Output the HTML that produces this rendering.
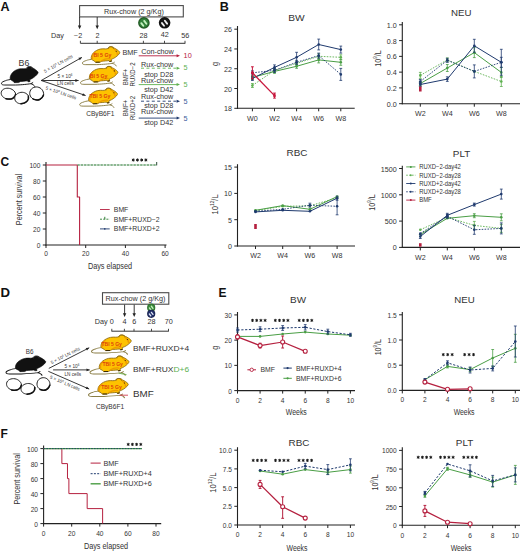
<!DOCTYPE html>
<html><head><meta charset="utf-8"><style>
html,body{margin:0;padding:0;background:#fff;}
svg{display:block;}
text{font-family:"Liberation Sans", sans-serif;}
</style></head><body>
<svg width="520" height="553" viewBox="0 0 520 553">
<rect width="520" height="553" fill="#fff"/>
<text font-size="12" text-anchor="start" fill="#111" font-weight="bold" transform="translate(0.5 10.6) scale(1.05 1)">A</text>
<rect x="79.6" y="5.6" width="103.7" height="11.3" fill="white" stroke="#4a4a4a" stroke-width="1.1"/>
<text font-size="6.6" text-anchor="middle" fill="#333" transform="translate(133.9 14.2) scale(1.1 1)">Rux-chow (2 g/Kg)</text>
<line x1="79.6" y1="17" x2="79.6" y2="26.5" stroke="#222" stroke-width="0.9"/>
<path d="M79.6,29.2 l-1.7,-3.6 l3.4,0 z" fill="#222"/>
<line x1="97.2" y1="17" x2="97.2" y2="26.5" stroke="#222" stroke-width="0.9"/>
<path d="M97.2,29.2 l-1.7,-3.6 l3.4,0 z" fill="#222"/>
<circle cx="143.9" cy="22.9" r="5.8" fill="#235a25"/>
<circle cx="143.9" cy="22.9" r="4.52" fill="#32813a"/>
<path d="M141.29,23.19 l2.03,2.61 M144.19,20.87 l2.2,2.9" stroke="#c6f2c0" stroke-width="1.86" stroke-linecap="round"/>
<circle cx="164.6" cy="22.8" r="5.8" fill="#111"/>
<circle cx="164.6" cy="22.8" r="4.52" fill="#161616"/>
<path d="M161.99,23.09 l2.03,2.61 M164.89,20.77 l2.2,2.9" stroke="#f2f2f2" stroke-width="1.86" stroke-linecap="round"/>
<text font-size="6.6" text-anchor="start" fill="#333" transform="translate(51 37.6) scale(1.1 1)">Day</text>
<text font-size="6.6" text-anchor="middle" fill="#333" transform="translate(78.2 37.6) scale(1.1 1)">&#8722;2</text>
<text font-size="6.6" text-anchor="middle" fill="#333" transform="translate(97.5 37.6) scale(1.1 1)">2</text>
<text font-size="6.6" text-anchor="middle" fill="#333" transform="translate(143.6 37.6) scale(1.1 1)">28</text>
<text font-size="6.6" text-anchor="middle" fill="#333" transform="translate(164.7 37) scale(1.1 1)">42</text>
<text font-size="6.6" text-anchor="middle" fill="#333" transform="translate(185.2 37.6) scale(1.1 1)">56</text>
<line x1="80.4" y1="43.3" x2="185.3" y2="43.3" stroke="#333" stroke-width="1"/>
<line x1="80.4" y1="40.8" x2="80.4" y2="43.3" stroke="#333" stroke-width="0.9"/>
<line x1="97.2" y1="40.8" x2="97.2" y2="43.3" stroke="#333" stroke-width="0.9"/>
<line x1="143.4" y1="40.8" x2="143.4" y2="43.3" stroke="#333" stroke-width="0.9"/>
<line x1="164.5" y1="40.8" x2="164.5" y2="43.3" stroke="#333" stroke-width="0.9"/>
<line x1="185" y1="40.8" x2="185" y2="43.3" stroke="#333" stroke-width="0.9"/>
<text font-size="6.6" text-anchor="start" fill="#333" transform="translate(122.4 54.7) scale(1.1 1)">BMF</text>
<text font-size="6.6" text-anchor="middle" fill="#333" transform="translate(157.5 54.4) scale(1.1 1)">Con-chow</text>
<line x1="138.7" y1="55.8" x2="177.5" y2="55.8" stroke="#b5203f" stroke-width="0.9"/>
<path d="M180,55.8 l-3.4,-1.5 l0,3 z" fill="#b5203f"/>
<text font-size="6.6" text-anchor="start" fill="#b5203f" transform="translate(183.6 58.3) scale(1.1 1)">10</text>
<text font-size="6.6" text-anchor="middle" fill="#333" transform="translate(127.6 77) rotate(-90) scale(0.92 1)">BMF+</text>
<text font-size="6.6" text-anchor="middle" fill="#333" transform="translate(135 74.4) rotate(-90) scale(0.92 1)">RUXD&#8722;2</text>
<text font-size="6.6" text-anchor="middle" fill="#333" transform="translate(157.2 67) scale(1.1 1)">Rux-chow</text>
<line x1="141" y1="68.2" x2="177.5" y2="68.2" stroke="#5db04f" stroke-width="0.9" stroke-dasharray="3,2.4"/>
<path d="M180,68.2 l-3.4,-1.5 l0,3 z" fill="#5db04f"/>
<text font-size="6.6" text-anchor="start" fill="#5db04f" transform="translate(183.6 70.2) scale(1.1 1)">5</text>
<text font-size="6.6" text-anchor="middle" fill="#333" transform="translate(158.7 76.8) scale(1.1 1)">stop D28</text>
<text font-size="6.6" text-anchor="middle" fill="#333" transform="translate(157.2 83.3) scale(1.1 1)">Rux-chow</text>
<line x1="138.7" y1="84.6" x2="177.5" y2="84.6" stroke="#5db04f" stroke-width="0.9"/>
<path d="M180,84.6 l-3.4,-1.5 l0,3 z" fill="#5db04f"/>
<text font-size="6.6" text-anchor="start" fill="#5db04f" transform="translate(183.6 86.6) scale(1.1 1)">5</text>
<text font-size="6.6" text-anchor="middle" fill="#333" transform="translate(158.7 92.3) scale(1.1 1)">stop D42</text>
<text font-size="6.6" text-anchor="middle" fill="#333" transform="translate(127.6 108) rotate(-90) scale(0.92 1)">BMF+</text>
<text font-size="6.6" text-anchor="middle" fill="#333" transform="translate(135 108) rotate(-90) scale(0.92 1)">RUXD+2</text>
<text font-size="6.6" text-anchor="middle" fill="#333" transform="translate(157.2 99.3) scale(1.1 1)">Rux-chow</text>
<line x1="141" y1="101.2" x2="177.5" y2="101.2" stroke="#1f3a6e" stroke-width="0.9" stroke-dasharray="3,2.4"/>
<path d="M180,101.2 l-3.4,-1.5 l0,3 z" fill="#1f3a6e"/>
<text font-size="6.6" text-anchor="start" fill="#3a5a9a" transform="translate(183.6 103.7) scale(1.1 1)">5</text>
<text font-size="6.6" text-anchor="middle" fill="#333" transform="translate(158.7 107.8) scale(1.1 1)">stop D28</text>
<text font-size="6.6" text-anchor="middle" fill="#333" transform="translate(157.2 114.3) scale(1.1 1)">Rux-chow</text>
<line x1="138.7" y1="118.1" x2="177.5" y2="118.1" stroke="#1f3a6e" stroke-width="0.9"/>
<path d="M180,118.1 l-3.4,-1.5 l0,3 z" fill="#1f3a6e"/>
<text font-size="6.6" text-anchor="start" fill="#3a5a9a" transform="translate(183.6 120.9) scale(1.1 1)">5</text>
<text font-size="6.6" text-anchor="middle" fill="#333" transform="translate(158.7 125) scale(1.1 1)">stop D42</text>
<text font-size="8.4" text-anchor="middle" fill="#333" transform="translate(24 65.7) scale(1.05 1)">B6</text>
<g transform="translate(1 66.4) scale(0.95 0.95)">
<path d="M10,13.8 C7.5,14.2 5.5,14.6 4.9,15 C2.6,15.8 0.6,16.5 0.5,17.8 C0.4,19.2 1.8,19.6 4,19.6 L15.4,19.6 C22,19.4 28,18.8 31.1,18.2 C32.3,17.9 33.2,17.4 33.8,16.8 M31.1,18.2 C33,18.6 35,19.6 35.6,21.4" fill="none" stroke="#111" stroke-width="1"/>
<path d="M9.7,13.6 C9.3,11.2 10.2,8.6 12,6.6 C13.6,4.9 16,3.4 18.9,2.7 C20.8,2.3 22.6,2.4 24.1,2.5 C25.2,2.5 26,2.3 26.7,2.1 C27,1.2 27.6,0.6 28.5,0.3 C29.5,0 30.5,0 31,0.2 C32.2,0.4 33,1 33.3,1.6 C34.5,2.2 35.5,2.8 36.3,3.4 C37.3,4.1 38.2,4.9 38.7,5.6 C39.1,6.1 39.2,6.6 38.9,7.1 C38.2,8.3 37.3,9.4 36.3,10.2 C35.2,11.2 34,12.1 32.8,12.7 C31.8,13.2 30.9,13.6 30.2,14 L30.6,15.9 L28.4,16.2 L28.0,15.2 C26.5,15.4 25.2,15.5 24.1,15.6 C22.8,15.7 21.6,15.8 20.6,15.9 L18.6,17.0 L14.0,17.1 L12.8,15.6 C11.5,15.0 10.4,14.4 9.7,13.6 Z" fill="#111" stroke="#000" stroke-width="0.6"/>
<path d="M27.2,2.6 C27,1.2 28.2,0.1 29.8,0.1 C31.4,0.1 32.6,1.1 32.6,2.6" fill="none" stroke="#555" stroke-width="0.5"/>
</g>
<g transform="translate(8.4 93.7) rotate(12)">
<path d="M7.3,0 C7.3,3.24 4.02,5.4 0,5.4 C-4.38,5.4 -7.3,2.97 -7.3,0 C-7.3,-3.24 -3.65,-5.4 0,-5.4 C3.65,-5.4 7.3,-2.97 7.3,0 Z" fill="white" stroke="#111" stroke-width="0.85"/>
<path d="M7.15,-0.81 C7.3,3.24 4.02,5.4 -1.46,5.4" fill="none" stroke="#111" stroke-width="1.5" stroke-linecap="round"/>
</g>
<g transform="translate(21.7 98) rotate(-8)">
<path d="M7,0 C7,3.42 3.85,5.7 0,5.7 C-4.2,5.7 -7,3.14 -7,0 C-7,-3.42 -3.5,-5.7 0,-5.7 C3.5,-5.7 7,-3.14 7,0 Z" fill="white" stroke="#111" stroke-width="0.85"/>
<path d="M6.86,-0.85 C7,3.42 3.85,5.7 -1.4,5.7" fill="none" stroke="#111" stroke-width="1.5" stroke-linecap="round"/>
</g>
<g transform="translate(36.7 93.5) rotate(20)">
<path d="M7,0 C7,3.9 3.85,6.5 0,6.5 C-4.2,6.5 -7,3.58 -7,0 C-7,-3.9 -3.5,-6.5 0,-6.5 C3.5,-6.5 7,-3.58 7,0 Z" fill="white" stroke="#111" stroke-width="0.85"/>
<path d="M6.86,-0.97 C7,3.9 3.85,6.5 -1.4,6.5" fill="none" stroke="#111" stroke-width="1.5" stroke-linecap="round"/>
</g>
<line x1="41.2" y1="80.5" x2="81.9" y2="57.4" stroke="#222" stroke-width="0.9"/>
<path d="M81.9,57.4 L79.81,60.2 L78.43,57.76 Z" fill="#222"/>
<line x1="41.2" y1="80.5" x2="78.6" y2="80.5" stroke="#222" stroke-width="0.9"/>
<path d="M78.6,80.5 L75.4,81.9 L75.4,79.1 Z" fill="#222"/>
<line x1="41.2" y1="80.5" x2="85.6" y2="95.5" stroke="#222" stroke-width="0.9"/>
<path d="M85.6,95.5 L82.12,95.8 L83.02,93.15 Z" fill="#222"/>
<text font-size="4.7" text-anchor="middle" fill="#333" transform="translate(59 65.2) rotate(-28.8) scale(0.98 1)">5 &#215; 10<tspan font-size="3.0" dy="-1.7">6</tspan><tspan dy="1.7"> LN cells</tspan></text>
<text font-size="4.7" text-anchor="middle" fill="#333" transform="translate(65 78)">5 &#215; 10<tspan font-size="3.0" dy="-1.7">6</tspan></text>
<text font-size="4.7" text-anchor="middle" fill="#333" transform="translate(65.4 85.3)">LN cells</text>
<text font-size="4.7" text-anchor="middle" fill="#333" transform="translate(60.4 94.4) rotate(18.5) scale(0.98 1)">5 &#215; 10<tspan font-size="3.0" dy="-1.7">6</tspan><tspan dy="1.7"> LN cells</tspan></text>
<g transform="translate(81.9 46.6) scale(0.97 0.92)">
<path d="M10,13.8 C7.5,14.2 5.5,14.6 4.9,15 C2.6,15.8 0.6,16.5 0.5,17.8 C0.4,19.2 1.8,19.6 4,19.6 L15.4,19.6 C22,19.4 28,18.8 31.1,18.2 C32.3,17.9 33.2,17.4 33.8,16.8 M31.1,18.2 C33,18.6 35,19.6 35.6,21.4" fill="none" stroke="#8a7d45" stroke-width="1"/>
<path d="M9.7,13.6 C9.3,11.2 10.2,8.6 12,6.6 C13.6,4.9 16,3.4 18.9,2.7 C20.8,2.3 22.6,2.4 24.1,2.5 C25.2,2.5 26,2.3 26.7,2.1 C27,1.2 27.6,0.6 28.5,0.3 C29.5,0 30.5,0 31,0.2 C32.2,0.4 33,1 33.3,1.6 C34.5,2.2 35.5,2.8 36.3,3.4 C37.3,4.1 38.2,4.9 38.7,5.6 C39.1,6.1 39.2,6.6 38.9,7.1 C38.2,8.3 37.3,9.4 36.3,10.2 C35.2,11.2 34,12.1 32.8,12.7 C31.8,13.2 30.9,13.6 30.2,14 L30.6,15.9 L28.4,16.2 L28.0,15.2 C26.5,15.4 25.2,15.5 24.1,15.6 C22.8,15.7 21.6,15.8 20.6,15.9 L18.6,17.0 L14.0,17.1 L12.8,15.6 C11.5,15.0 10.4,14.4 9.7,13.6 Z" fill="#fdc200" stroke="#8f6c12" stroke-width="0.9"/>
<path d="M10.9,13 C10.4,10.5 11.5,7.8 13.6,6 M20.5,15.4 C23,13.6 26,12.8 29,13.2 M33.6,3 C35.4,4.4 36.4,6.2 36.6,8.4" fill="none" stroke="#eb9300" stroke-width="1.4" stroke-linecap="round" opacity="0.85"/>
<path d="M27.2,2.6 C27,1.2 28.2,0.1 29.8,0.1 C31.4,0.1 32.6,1.1 32.6,2.6" fill="none" stroke="#8f6c12" stroke-width="0.9"/>
<circle cx="35.4" cy="5.0" r="0.6" fill="#3a2a00"/>
<path d="M28.4,16.1 L30.6,15.8 M14.2,17.0 L18.4,16.9" stroke="#3a2a00" stroke-width="1.0"/>
</g>
<text font-size="6" text-anchor="middle" fill="#e0400c" font-weight="bold" transform="translate(102.4 57.4) scale(0.86 1)">BI 5 Gy</text>
<g transform="translate(80 66.3) scale(0.97 0.92)">
<path d="M10,13.8 C7.5,14.2 5.5,14.6 4.9,15 C2.6,15.8 0.6,16.5 0.5,17.8 C0.4,19.2 1.8,19.6 4,19.6 L15.4,19.6 C22,19.4 28,18.8 31.1,18.2 C32.3,17.9 33.2,17.4 33.8,16.8 M31.1,18.2 C33,18.6 35,19.6 35.6,21.4" fill="none" stroke="#8a7d45" stroke-width="1"/>
<path d="M9.7,13.6 C9.3,11.2 10.2,8.6 12,6.6 C13.6,4.9 16,3.4 18.9,2.7 C20.8,2.3 22.6,2.4 24.1,2.5 C25.2,2.5 26,2.3 26.7,2.1 C27,1.2 27.6,0.6 28.5,0.3 C29.5,0 30.5,0 31,0.2 C32.2,0.4 33,1 33.3,1.6 C34.5,2.2 35.5,2.8 36.3,3.4 C37.3,4.1 38.2,4.9 38.7,5.6 C39.1,6.1 39.2,6.6 38.9,7.1 C38.2,8.3 37.3,9.4 36.3,10.2 C35.2,11.2 34,12.1 32.8,12.7 C31.8,13.2 30.9,13.6 30.2,14 L30.6,15.9 L28.4,16.2 L28.0,15.2 C26.5,15.4 25.2,15.5 24.1,15.6 C22.8,15.7 21.6,15.8 20.6,15.9 L18.6,17.0 L14.0,17.1 L12.8,15.6 C11.5,15.0 10.4,14.4 9.7,13.6 Z" fill="#fdc200" stroke="#8f6c12" stroke-width="0.9"/>
<path d="M10.9,13 C10.4,10.5 11.5,7.8 13.6,6 M20.5,15.4 C23,13.6 26,12.8 29,13.2 M33.6,3 C35.4,4.4 36.4,6.2 36.6,8.4" fill="none" stroke="#eb9300" stroke-width="1.4" stroke-linecap="round" opacity="0.85"/>
<path d="M27.2,2.6 C27,1.2 28.2,0.1 29.8,0.1 C31.4,0.1 32.6,1.1 32.6,2.6" fill="none" stroke="#8f6c12" stroke-width="0.9"/>
<circle cx="35.4" cy="5.0" r="0.6" fill="#3a2a00"/>
<path d="M28.4,16.1 L30.6,15.8 M14.2,17.0 L18.4,16.9" stroke="#3a2a00" stroke-width="1.0"/>
</g>
<text font-size="6" text-anchor="middle" fill="#e0400c" font-weight="bold" transform="translate(98.6 78.4) scale(0.86 1)">BI 5 Gy</text>
<g transform="translate(79.2 88.1) scale(0.98 0.92)">
<path d="M10,13.8 C7.5,14.2 5.5,14.6 4.9,15 C2.6,15.8 0.6,16.5 0.5,17.8 C0.4,19.2 1.8,19.6 4,19.6 L15.4,19.6 C22,19.4 28,18.8 31.1,18.2 C32.3,17.9 33.2,17.4 33.8,16.8 M31.1,18.2 C33,18.6 35,19.6 35.6,21.4" fill="none" stroke="#8a7d45" stroke-width="1"/>
<path d="M9.7,13.6 C9.3,11.2 10.2,8.6 12,6.6 C13.6,4.9 16,3.4 18.9,2.7 C20.8,2.3 22.6,2.4 24.1,2.5 C25.2,2.5 26,2.3 26.7,2.1 C27,1.2 27.6,0.6 28.5,0.3 C29.5,0 30.5,0 31,0.2 C32.2,0.4 33,1 33.3,1.6 C34.5,2.2 35.5,2.8 36.3,3.4 C37.3,4.1 38.2,4.9 38.7,5.6 C39.1,6.1 39.2,6.6 38.9,7.1 C38.2,8.3 37.3,9.4 36.3,10.2 C35.2,11.2 34,12.1 32.8,12.7 C31.8,13.2 30.9,13.6 30.2,14 L30.6,15.9 L28.4,16.2 L28.0,15.2 C26.5,15.4 25.2,15.5 24.1,15.6 C22.8,15.7 21.6,15.8 20.6,15.9 L18.6,17.0 L14.0,17.1 L12.8,15.6 C11.5,15.0 10.4,14.4 9.7,13.6 Z" fill="#fdc200" stroke="#8f6c12" stroke-width="0.9"/>
<path d="M10.9,13 C10.4,10.5 11.5,7.8 13.6,6 M20.5,15.4 C23,13.6 26,12.8 29,13.2 M33.6,3 C35.4,4.4 36.4,6.2 36.6,8.4" fill="none" stroke="#eb9300" stroke-width="1.4" stroke-linecap="round" opacity="0.85"/>
<path d="M27.2,2.6 C27,1.2 28.2,0.1 29.8,0.1 C31.4,0.1 32.6,1.1 32.6,2.6" fill="none" stroke="#8f6c12" stroke-width="0.9"/>
<circle cx="35.4" cy="5.0" r="0.6" fill="#3a2a00"/>
<path d="M28.4,16.1 L30.6,15.8 M14.2,17.0 L18.4,16.9" stroke="#3a2a00" stroke-width="1.0"/>
</g>
<text font-size="6" text-anchor="middle" fill="#e0400c" font-weight="bold" transform="translate(99.9 98.3) scale(0.86 1)">TBI 5 Gy</text>
<text font-size="6.6" text-anchor="middle" fill="#333" transform="translate(100.3 116)">CByB6F1</text>
<text font-size="12" text-anchor="start" fill="#111" font-weight="bold" transform="translate(219.8 10.6) scale(1.05 1)">B</text>
<text font-size="9.3" text-anchor="middle" fill="#333" transform="translate(296.5 20.8) scale(1.1 1)">BW</text>
<line x1="237.5" y1="26" x2="237.5" y2="108.8" stroke="#222" stroke-width="1.1"/>
<line x1="234.3" y1="108.3" x2="237.5" y2="108.3" stroke="#222" stroke-width="1"/>
<text font-size="6.5" text-anchor="end" fill="#333" transform="translate(231.9 111.3) scale(1.1 1)">18</text>
<line x1="234.3" y1="88.52" x2="237.5" y2="88.52" stroke="#222" stroke-width="1"/>
<text font-size="6.5" text-anchor="end" fill="#333" transform="translate(231.9 91.52) scale(1.1 1)">20</text>
<line x1="234.3" y1="68.74" x2="237.5" y2="68.74" stroke="#222" stroke-width="1"/>
<text font-size="6.5" text-anchor="end" fill="#333" transform="translate(231.9 71.74) scale(1.1 1)">22</text>
<line x1="234.3" y1="48.96" x2="237.5" y2="48.96" stroke="#222" stroke-width="1"/>
<text font-size="6.5" text-anchor="end" fill="#333" transform="translate(231.9 51.96) scale(1.1 1)">24</text>
<line x1="234.3" y1="29.18" x2="237.5" y2="29.18" stroke="#222" stroke-width="1"/>
<text font-size="6.5" text-anchor="end" fill="#333" transform="translate(231.9 32.18) scale(1.1 1)">26</text>
<line x1="237" y1="108.3" x2="354.7" y2="108.3" stroke="#222" stroke-width="1.1"/>
<line x1="252.4" y1="108.3" x2="252.4" y2="111.3" stroke="#222" stroke-width="1"/>
<text font-size="6.5" text-anchor="middle" fill="#333" transform="translate(252.4 120.5) scale(1.1 1)">W0</text>
<line x1="274.5" y1="108.3" x2="274.5" y2="111.3" stroke="#222" stroke-width="1"/>
<text font-size="6.5" text-anchor="middle" fill="#333" transform="translate(274.5 120.5) scale(1.1 1)">W2</text>
<line x1="296.6" y1="108.3" x2="296.6" y2="111.3" stroke="#222" stroke-width="1"/>
<text font-size="6.5" text-anchor="middle" fill="#333" transform="translate(296.6 120.5) scale(1.1 1)">W4</text>
<line x1="318.7" y1="108.3" x2="318.7" y2="111.3" stroke="#222" stroke-width="1"/>
<text font-size="6.5" text-anchor="middle" fill="#333" transform="translate(318.7 120.5) scale(1.1 1)">W6</text>
<line x1="340.8" y1="108.3" x2="340.8" y2="111.3" stroke="#222" stroke-width="1"/>
<text font-size="6.5" text-anchor="middle" fill="#333" transform="translate(340.8 120.5) scale(1.1 1)">W8</text>
<text font-size="9.2" text-anchor="middle" fill="#333" transform="translate(217.7 63.9) rotate(-90) scale(0.78 1)">g</text>
<polyline points="252.4,85.5 274.5,70.4 296.6,63.3 318.7,56.3 340.8,57.3" fill="none" stroke="#5db04f" stroke-width="0.9" stroke-dasharray="1.6,1.3" stroke-linejoin="round"/>
<line x1="252.4" y1="83.5" x2="252.4" y2="87.5" stroke="#5db04f" stroke-width="0.8"/>
<line x1="251" y1="83.5" x2="253.8" y2="83.5" stroke="#5db04f" stroke-width="0.8"/>
<line x1="251" y1="87.5" x2="253.8" y2="87.5" stroke="#5db04f" stroke-width="0.8"/>
<line x1="274.5" y1="68.4" x2="274.5" y2="72.4" stroke="#5db04f" stroke-width="0.8"/>
<line x1="273.1" y1="68.4" x2="275.9" y2="68.4" stroke="#5db04f" stroke-width="0.8"/>
<line x1="273.1" y1="72.4" x2="275.9" y2="72.4" stroke="#5db04f" stroke-width="0.8"/>
<line x1="296.6" y1="61.3" x2="296.6" y2="65.3" stroke="#5db04f" stroke-width="0.8"/>
<line x1="295.2" y1="61.3" x2="298" y2="61.3" stroke="#5db04f" stroke-width="0.8"/>
<line x1="295.2" y1="65.3" x2="298" y2="65.3" stroke="#5db04f" stroke-width="0.8"/>
<line x1="318.7" y1="53.8" x2="318.7" y2="58.8" stroke="#5db04f" stroke-width="0.8"/>
<line x1="317.3" y1="53.8" x2="320.1" y2="53.8" stroke="#5db04f" stroke-width="0.8"/>
<line x1="317.3" y1="58.8" x2="320.1" y2="58.8" stroke="#5db04f" stroke-width="0.8"/>
<line x1="340.8" y1="54.8" x2="340.8" y2="59.8" stroke="#5db04f" stroke-width="0.8"/>
<line x1="339.4" y1="54.8" x2="342.2" y2="54.8" stroke="#5db04f" stroke-width="0.8"/>
<line x1="339.4" y1="59.8" x2="342.2" y2="59.8" stroke="#5db04f" stroke-width="0.8"/>
<circle cx="252.4" cy="85.5" r="1.3" fill="#5db04f"/>
<circle cx="274.5" cy="70.4" r="1.3" fill="#5db04f"/>
<circle cx="296.6" cy="63.3" r="1.3" fill="#5db04f"/>
<circle cx="318.7" cy="56.3" r="1.3" fill="#5db04f"/>
<circle cx="340.8" cy="57.3" r="1.3" fill="#5db04f"/>
<polyline points="252.4,77.5 274.5,71.4 296.6,66.3 318.7,59.9 340.8,62.3" fill="none" stroke="#4a9e45" stroke-width="1" stroke-linejoin="round"/>
<line x1="252.4" y1="75.5" x2="252.4" y2="79.5" stroke="#4a9e45" stroke-width="0.8"/>
<line x1="251" y1="75.5" x2="253.8" y2="75.5" stroke="#4a9e45" stroke-width="0.8"/>
<line x1="251" y1="79.5" x2="253.8" y2="79.5" stroke="#4a9e45" stroke-width="0.8"/>
<line x1="274.5" y1="69.4" x2="274.5" y2="73.4" stroke="#4a9e45" stroke-width="0.8"/>
<line x1="273.1" y1="69.4" x2="275.9" y2="69.4" stroke="#4a9e45" stroke-width="0.8"/>
<line x1="273.1" y1="73.4" x2="275.9" y2="73.4" stroke="#4a9e45" stroke-width="0.8"/>
<line x1="296.6" y1="64.3" x2="296.6" y2="68.3" stroke="#4a9e45" stroke-width="0.8"/>
<line x1="295.2" y1="64.3" x2="298" y2="64.3" stroke="#4a9e45" stroke-width="0.8"/>
<line x1="295.2" y1="68.3" x2="298" y2="68.3" stroke="#4a9e45" stroke-width="0.8"/>
<line x1="318.7" y1="56.9" x2="318.7" y2="62.9" stroke="#4a9e45" stroke-width="0.8"/>
<line x1="317.3" y1="56.9" x2="320.1" y2="56.9" stroke="#4a9e45" stroke-width="0.8"/>
<line x1="317.3" y1="62.9" x2="320.1" y2="62.9" stroke="#4a9e45" stroke-width="0.8"/>
<line x1="340.8" y1="59.3" x2="340.8" y2="65.3" stroke="#4a9e45" stroke-width="0.8"/>
<line x1="339.4" y1="59.3" x2="342.2" y2="59.3" stroke="#4a9e45" stroke-width="0.8"/>
<line x1="339.4" y1="65.3" x2="342.2" y2="65.3" stroke="#4a9e45" stroke-width="0.8"/>
<circle cx="252.4" cy="77.5" r="1.3" fill="#4a9e45"/>
<circle cx="274.5" cy="71.4" r="1.3" fill="#4a9e45"/>
<circle cx="296.6" cy="66.3" r="1.3" fill="#4a9e45"/>
<circle cx="318.7" cy="59.9" r="1.3" fill="#4a9e45"/>
<circle cx="340.8" cy="62.3" r="1.3" fill="#4a9e45"/>
<polyline points="252.4,72.8 274.5,70.4 296.6,62.3 318.7,55.6 340.8,74.4" fill="none" stroke="#1f3a6e" stroke-width="0.9" stroke-dasharray="1.6,1.3" stroke-linejoin="round"/>
<line x1="252.4" y1="70.8" x2="252.4" y2="74.8" stroke="#1f3a6e" stroke-width="0.8"/>
<line x1="251" y1="70.8" x2="253.8" y2="70.8" stroke="#1f3a6e" stroke-width="0.8"/>
<line x1="251" y1="74.8" x2="253.8" y2="74.8" stroke="#1f3a6e" stroke-width="0.8"/>
<line x1="274.5" y1="68.4" x2="274.5" y2="72.4" stroke="#1f3a6e" stroke-width="0.8"/>
<line x1="273.1" y1="68.4" x2="275.9" y2="68.4" stroke="#1f3a6e" stroke-width="0.8"/>
<line x1="273.1" y1="72.4" x2="275.9" y2="72.4" stroke="#1f3a6e" stroke-width="0.8"/>
<line x1="296.6" y1="60.3" x2="296.6" y2="64.3" stroke="#1f3a6e" stroke-width="0.8"/>
<line x1="295.2" y1="60.3" x2="298" y2="60.3" stroke="#1f3a6e" stroke-width="0.8"/>
<line x1="295.2" y1="64.3" x2="298" y2="64.3" stroke="#1f3a6e" stroke-width="0.8"/>
<line x1="318.7" y1="53.1" x2="318.7" y2="58.1" stroke="#1f3a6e" stroke-width="0.8"/>
<line x1="317.3" y1="53.1" x2="320.1" y2="53.1" stroke="#1f3a6e" stroke-width="0.8"/>
<line x1="317.3" y1="58.1" x2="320.1" y2="58.1" stroke="#1f3a6e" stroke-width="0.8"/>
<line x1="340.8" y1="68.4" x2="340.8" y2="80.4" stroke="#1f3a6e" stroke-width="0.8"/>
<line x1="339.4" y1="68.4" x2="342.2" y2="68.4" stroke="#1f3a6e" stroke-width="0.8"/>
<line x1="339.4" y1="80.4" x2="342.2" y2="80.4" stroke="#1f3a6e" stroke-width="0.8"/>
<circle cx="252.4" cy="72.8" r="1.3" fill="#1f3a6e"/>
<circle cx="274.5" cy="70.4" r="1.3" fill="#1f3a6e"/>
<circle cx="296.6" cy="62.3" r="1.3" fill="#1f3a6e"/>
<circle cx="318.7" cy="55.6" r="1.3" fill="#1f3a6e"/>
<circle cx="340.8" cy="74.4" r="1.3" fill="#1f3a6e"/>
<polyline points="252.4,78.5 274.5,67.4 296.6,57.3 318.7,44.5 340.8,49.6" fill="none" stroke="#1f3a6e" stroke-width="1" stroke-linejoin="round"/>
<line x1="252.4" y1="76.5" x2="252.4" y2="80.5" stroke="#1f3a6e" stroke-width="0.8"/>
<line x1="251" y1="76.5" x2="253.8" y2="76.5" stroke="#1f3a6e" stroke-width="0.8"/>
<line x1="251" y1="80.5" x2="253.8" y2="80.5" stroke="#1f3a6e" stroke-width="0.8"/>
<line x1="274.5" y1="64.9" x2="274.5" y2="69.9" stroke="#1f3a6e" stroke-width="0.8"/>
<line x1="273.1" y1="64.9" x2="275.9" y2="64.9" stroke="#1f3a6e" stroke-width="0.8"/>
<line x1="273.1" y1="69.9" x2="275.9" y2="69.9" stroke="#1f3a6e" stroke-width="0.8"/>
<line x1="296.6" y1="52.3" x2="296.6" y2="62.3" stroke="#1f3a6e" stroke-width="0.8"/>
<line x1="295.2" y1="52.3" x2="298" y2="52.3" stroke="#1f3a6e" stroke-width="0.8"/>
<line x1="295.2" y1="62.3" x2="298" y2="62.3" stroke="#1f3a6e" stroke-width="0.8"/>
<line x1="318.7" y1="39.1" x2="318.7" y2="49.9" stroke="#1f3a6e" stroke-width="0.8"/>
<line x1="317.3" y1="39.1" x2="320.1" y2="39.1" stroke="#1f3a6e" stroke-width="0.8"/>
<line x1="317.3" y1="49.9" x2="320.1" y2="49.9" stroke="#1f3a6e" stroke-width="0.8"/>
<line x1="340.8" y1="46.1" x2="340.8" y2="53.1" stroke="#1f3a6e" stroke-width="0.8"/>
<line x1="339.4" y1="46.1" x2="342.2" y2="46.1" stroke="#1f3a6e" stroke-width="0.8"/>
<line x1="339.4" y1="53.1" x2="342.2" y2="53.1" stroke="#1f3a6e" stroke-width="0.8"/>
<circle cx="252.4" cy="78.5" r="1.3" fill="#1f3a6e"/>
<circle cx="274.5" cy="67.4" r="1.3" fill="#1f3a6e"/>
<circle cx="296.6" cy="57.3" r="1.3" fill="#1f3a6e"/>
<circle cx="318.7" cy="44.5" r="1.3" fill="#1f3a6e"/>
<circle cx="340.8" cy="49.6" r="1.3" fill="#1f3a6e"/>
<polyline points="252.4,72.8 274.5,95.6" fill="none" stroke="#c8183e" stroke-width="1.3" stroke-linejoin="round"/>
<line x1="252.4" y1="66.8" x2="252.4" y2="78.8" stroke="#c8183e" stroke-width="1"/>
<line x1="251" y1="66.8" x2="253.8" y2="66.8" stroke="#c8183e" stroke-width="1"/>
<line x1="251" y1="78.8" x2="253.8" y2="78.8" stroke="#c8183e" stroke-width="1"/>
<line x1="274.5" y1="93.1" x2="274.5" y2="98.1" stroke="#c8183e" stroke-width="1"/>
<line x1="273.1" y1="93.1" x2="275.9" y2="93.1" stroke="#c8183e" stroke-width="1"/>
<line x1="273.1" y1="98.1" x2="275.9" y2="98.1" stroke="#c8183e" stroke-width="1"/>
<rect x="251.1" y="71.5" width="2.6" height="2.6" fill="#c8183e"/>
<rect x="273.2" y="94.3" width="2.6" height="2.6" fill="#c8183e"/>
<text font-size="8.8" text-anchor="middle" fill="#333" transform="translate(461.2 15.9) scale(1.1 1)">NEU</text>
<line x1="402.3" y1="21.9" x2="402.3" y2="104.2" stroke="#222" stroke-width="1.1"/>
<line x1="399.1" y1="103.7" x2="402.3" y2="103.7" stroke="#222" stroke-width="1"/>
<text font-size="6.5" text-anchor="end" fill="#333" transform="translate(396.7 106.7) scale(1.1 1)">0.0</text>
<line x1="399.1" y1="87.92" x2="402.3" y2="87.92" stroke="#222" stroke-width="1"/>
<text font-size="6.5" text-anchor="end" fill="#333" transform="translate(396.7 90.92) scale(1.1 1)">0.2</text>
<line x1="399.1" y1="72.14" x2="402.3" y2="72.14" stroke="#222" stroke-width="1"/>
<text font-size="6.5" text-anchor="end" fill="#333" transform="translate(396.7 75.14) scale(1.1 1)">0.4</text>
<line x1="399.1" y1="56.36" x2="402.3" y2="56.36" stroke="#222" stroke-width="1"/>
<text font-size="6.5" text-anchor="end" fill="#333" transform="translate(396.7 59.36) scale(1.1 1)">0.6</text>
<line x1="399.1" y1="40.58" x2="402.3" y2="40.58" stroke="#222" stroke-width="1"/>
<text font-size="6.5" text-anchor="end" fill="#333" transform="translate(396.7 43.58) scale(1.1 1)">0.8</text>
<line x1="399.1" y1="24.8" x2="402.3" y2="24.8" stroke="#222" stroke-width="1"/>
<text font-size="6.5" text-anchor="end" fill="#333" transform="translate(396.7 27.8) scale(1.1 1)">1.0</text>
<line x1="401.8" y1="103.7" x2="520" y2="103.7" stroke="#222" stroke-width="1.1"/>
<line x1="420.3" y1="103.7" x2="420.3" y2="106.7" stroke="#222" stroke-width="1"/>
<text font-size="6.5" text-anchor="middle" fill="#333" transform="translate(420.3 115.8) scale(1.1 1)">W2</text>
<line x1="447.3" y1="103.7" x2="447.3" y2="106.7" stroke="#222" stroke-width="1"/>
<text font-size="6.5" text-anchor="middle" fill="#333" transform="translate(447.3 115.8) scale(1.1 1)">W4</text>
<line x1="474.3" y1="103.7" x2="474.3" y2="106.7" stroke="#222" stroke-width="1"/>
<text font-size="6.5" text-anchor="middle" fill="#333" transform="translate(474.3 115.8) scale(1.1 1)">W6</text>
<line x1="501.3" y1="103.7" x2="501.3" y2="106.7" stroke="#222" stroke-width="1"/>
<text font-size="6.5" text-anchor="middle" fill="#333" transform="translate(501.3 115.8) scale(1.1 1)">W8</text>
<text font-size="9.1" text-anchor="middle" fill="#333" transform="translate(380.7 58.5) rotate(-90) scale(0.78 1)">10<tspan font-size="5.8" dy="-4.2">9</tspan><tspan dy="4.2">/L</tspan></text>
<polyline points="420.3,75.4 447.3,59.9 474.3,71.4 501.3,81.5" fill="none" stroke="#5db04f" stroke-width="0.9" stroke-dasharray="1.6,1.3" stroke-linejoin="round"/>
<line x1="420.3" y1="72.4" x2="420.3" y2="78.4" stroke="#5db04f" stroke-width="0.8"/>
<line x1="418.9" y1="72.4" x2="421.7" y2="72.4" stroke="#5db04f" stroke-width="0.8"/>
<line x1="418.9" y1="78.4" x2="421.7" y2="78.4" stroke="#5db04f" stroke-width="0.8"/>
<line x1="447.3" y1="57.9" x2="447.3" y2="61.9" stroke="#5db04f" stroke-width="0.8"/>
<line x1="445.9" y1="57.9" x2="448.7" y2="57.9" stroke="#5db04f" stroke-width="0.8"/>
<line x1="445.9" y1="61.9" x2="448.7" y2="61.9" stroke="#5db04f" stroke-width="0.8"/>
<line x1="501.3" y1="76.5" x2="501.3" y2="86.5" stroke="#5db04f" stroke-width="0.8"/>
<line x1="499.9" y1="76.5" x2="502.7" y2="76.5" stroke="#5db04f" stroke-width="0.8"/>
<line x1="499.9" y1="86.5" x2="502.7" y2="86.5" stroke="#5db04f" stroke-width="0.8"/>
<circle cx="420.3" cy="75.4" r="1.3" fill="#5db04f"/>
<circle cx="447.3" cy="59.9" r="1.3" fill="#5db04f"/>
<circle cx="474.3" cy="71.4" r="1.3" fill="#5db04f"/>
<circle cx="501.3" cy="81.5" r="1.3" fill="#5db04f"/>
<polyline points="420.3,83.5 447.3,68 474.3,52.6 501.3,72.4" fill="none" stroke="#4a9e45" stroke-width="1" stroke-linejoin="round"/>
<line x1="420.3" y1="81.5" x2="420.3" y2="85.5" stroke="#4a9e45" stroke-width="0.8"/>
<line x1="418.9" y1="81.5" x2="421.7" y2="81.5" stroke="#4a9e45" stroke-width="0.8"/>
<line x1="418.9" y1="85.5" x2="421.7" y2="85.5" stroke="#4a9e45" stroke-width="0.8"/>
<line x1="447.3" y1="64.5" x2="447.3" y2="71.5" stroke="#4a9e45" stroke-width="0.8"/>
<line x1="445.9" y1="64.5" x2="448.7" y2="64.5" stroke="#4a9e45" stroke-width="0.8"/>
<line x1="445.9" y1="71.5" x2="448.7" y2="71.5" stroke="#4a9e45" stroke-width="0.8"/>
<line x1="474.3" y1="47.6" x2="474.3" y2="57.6" stroke="#4a9e45" stroke-width="0.8"/>
<line x1="472.9" y1="47.6" x2="475.7" y2="47.6" stroke="#4a9e45" stroke-width="0.8"/>
<line x1="472.9" y1="57.6" x2="475.7" y2="57.6" stroke="#4a9e45" stroke-width="0.8"/>
<line x1="501.3" y1="67.4" x2="501.3" y2="77.4" stroke="#4a9e45" stroke-width="0.8"/>
<line x1="499.9" y1="67.4" x2="502.7" y2="67.4" stroke="#4a9e45" stroke-width="0.8"/>
<line x1="499.9" y1="77.4" x2="502.7" y2="77.4" stroke="#4a9e45" stroke-width="0.8"/>
<circle cx="420.3" cy="83.5" r="1.3" fill="#4a9e45"/>
<circle cx="447.3" cy="68" r="1.3" fill="#4a9e45"/>
<circle cx="474.3" cy="52.6" r="1.3" fill="#4a9e45"/>
<circle cx="501.3" cy="72.4" r="1.3" fill="#4a9e45"/>
<polyline points="420.3,81.5 447.3,60.3 474.3,71.4 501.3,62.3" fill="none" stroke="#1f3a6e" stroke-width="0.9" stroke-dasharray="1.6,1.3" stroke-linejoin="round"/>
<line x1="420.3" y1="79.5" x2="420.3" y2="83.5" stroke="#1f3a6e" stroke-width="0.8"/>
<line x1="418.9" y1="79.5" x2="421.7" y2="79.5" stroke="#1f3a6e" stroke-width="0.8"/>
<line x1="418.9" y1="83.5" x2="421.7" y2="83.5" stroke="#1f3a6e" stroke-width="0.8"/>
<line x1="447.3" y1="58.3" x2="447.3" y2="62.3" stroke="#1f3a6e" stroke-width="0.8"/>
<line x1="445.9" y1="58.3" x2="448.7" y2="58.3" stroke="#1f3a6e" stroke-width="0.8"/>
<line x1="445.9" y1="62.3" x2="448.7" y2="62.3" stroke="#1f3a6e" stroke-width="0.8"/>
<line x1="474.3" y1="64.9" x2="474.3" y2="77.9" stroke="#1f3a6e" stroke-width="0.8"/>
<line x1="472.9" y1="64.9" x2="475.7" y2="64.9" stroke="#1f3a6e" stroke-width="0.8"/>
<line x1="472.9" y1="77.9" x2="475.7" y2="77.9" stroke="#1f3a6e" stroke-width="0.8"/>
<line x1="501.3" y1="49.3" x2="501.3" y2="75.3" stroke="#1f3a6e" stroke-width="0.8"/>
<line x1="499.9" y1="49.3" x2="502.7" y2="49.3" stroke="#1f3a6e" stroke-width="0.8"/>
<line x1="499.9" y1="75.3" x2="502.7" y2="75.3" stroke="#1f3a6e" stroke-width="0.8"/>
<circle cx="420.3" cy="81.5" r="1.3" fill="#1f3a6e"/>
<circle cx="447.3" cy="60.3" r="1.3" fill="#1f3a6e"/>
<circle cx="474.3" cy="71.4" r="1.3" fill="#1f3a6e"/>
<circle cx="501.3" cy="62.3" r="1.3" fill="#1f3a6e"/>
<polyline points="420.3,84.5 447.3,79.1 474.3,45.8 501.3,62.3" fill="none" stroke="#1f3a6e" stroke-width="1" stroke-linejoin="round"/>
<line x1="420.3" y1="82.5" x2="420.3" y2="86.5" stroke="#1f3a6e" stroke-width="0.8"/>
<line x1="418.9" y1="82.5" x2="421.7" y2="82.5" stroke="#1f3a6e" stroke-width="0.8"/>
<line x1="418.9" y1="86.5" x2="421.7" y2="86.5" stroke="#1f3a6e" stroke-width="0.8"/>
<line x1="447.3" y1="76.8" x2="447.3" y2="81.4" stroke="#1f3a6e" stroke-width="0.8"/>
<line x1="445.9" y1="76.8" x2="448.7" y2="76.8" stroke="#1f3a6e" stroke-width="0.8"/>
<line x1="445.9" y1="81.4" x2="448.7" y2="81.4" stroke="#1f3a6e" stroke-width="0.8"/>
<line x1="474.3" y1="39.3" x2="474.3" y2="52.3" stroke="#1f3a6e" stroke-width="0.8"/>
<line x1="472.9" y1="39.3" x2="475.7" y2="39.3" stroke="#1f3a6e" stroke-width="0.8"/>
<line x1="472.9" y1="52.3" x2="475.7" y2="52.3" stroke="#1f3a6e" stroke-width="0.8"/>
<line x1="501.3" y1="57.3" x2="501.3" y2="67.3" stroke="#1f3a6e" stroke-width="0.8"/>
<line x1="499.9" y1="57.3" x2="502.7" y2="57.3" stroke="#1f3a6e" stroke-width="0.8"/>
<line x1="499.9" y1="67.3" x2="502.7" y2="67.3" stroke="#1f3a6e" stroke-width="0.8"/>
<circle cx="420.3" cy="84.5" r="1.3" fill="#1f3a6e"/>
<circle cx="447.3" cy="79.1" r="1.3" fill="#1f3a6e"/>
<circle cx="474.3" cy="45.8" r="1.3" fill="#1f3a6e"/>
<circle cx="501.3" cy="62.3" r="1.3" fill="#1f3a6e"/>
<rect x="419" y="86.5" width="2.6" height="5" fill="#b5203f"/>
<text font-size="9" text-anchor="middle" fill="#333" transform="translate(297 156.2) scale(1.1 1)">RBC</text>
<line x1="237.5" y1="164.2" x2="237.5" y2="246.5" stroke="#222" stroke-width="1.1"/>
<line x1="234.3" y1="246" x2="237.5" y2="246" stroke="#222" stroke-width="1"/>
<text font-size="6.5" text-anchor="end" fill="#333" transform="translate(231.9 249) scale(1.1 1)">0</text>
<line x1="234.3" y1="219.7" x2="237.5" y2="219.7" stroke="#222" stroke-width="1"/>
<text font-size="6.5" text-anchor="end" fill="#333" transform="translate(231.9 222.7) scale(1.1 1)">5</text>
<line x1="234.3" y1="193.4" x2="237.5" y2="193.4" stroke="#222" stroke-width="1"/>
<text font-size="6.5" text-anchor="end" fill="#333" transform="translate(231.9 196.4) scale(1.1 1)">10</text>
<line x1="234.3" y1="167.1" x2="237.5" y2="167.1" stroke="#222" stroke-width="1"/>
<text font-size="6.5" text-anchor="end" fill="#333" transform="translate(231.9 170.1) scale(1.1 1)">15</text>
<line x1="237" y1="246" x2="355" y2="246" stroke="#222" stroke-width="1.1"/>
<line x1="255.5" y1="246" x2="255.5" y2="249" stroke="#222" stroke-width="1"/>
<text font-size="6.5" text-anchor="middle" fill="#333" transform="translate(255.5 258) scale(1.1 1)">W2</text>
<line x1="282.7" y1="246" x2="282.7" y2="249" stroke="#222" stroke-width="1"/>
<text font-size="6.5" text-anchor="middle" fill="#333" transform="translate(282.7 258) scale(1.1 1)">W4</text>
<line x1="309.9" y1="246" x2="309.9" y2="249" stroke="#222" stroke-width="1"/>
<text font-size="6.5" text-anchor="middle" fill="#333" transform="translate(309.9 258) scale(1.1 1)">W6</text>
<line x1="337.1" y1="246" x2="337.1" y2="249" stroke="#222" stroke-width="1"/>
<text font-size="6.5" text-anchor="middle" fill="#333" transform="translate(337.1 258) scale(1.1 1)">W8</text>
<text font-size="9.1" text-anchor="middle" fill="#333" transform="translate(218 204.4) rotate(-90) scale(0.84 1)">10<tspan font-size="5.8" dy="-4.2">12</tspan><tspan dy="4.2">/L</tspan></text>
<polyline points="255.5,210.7 282.7,206.3 309.9,205.8 337.1,197.8" fill="none" stroke="#5db04f" stroke-width="0.9" stroke-dasharray="1.6,1.3" stroke-linejoin="round"/>
<circle cx="255.5" cy="210.7" r="1.3" fill="#5db04f"/>
<circle cx="282.7" cy="206.3" r="1.3" fill="#5db04f"/>
<circle cx="309.9" cy="205.8" r="1.3" fill="#5db04f"/>
<circle cx="337.1" cy="197.8" r="1.3" fill="#5db04f"/>
<polyline points="255.5,210.3 282.7,205.6 309.9,209.3 337.1,196.6" fill="none" stroke="#4a9e45" stroke-width="1" stroke-linejoin="round"/>
<circle cx="255.5" cy="210.3" r="1.3" fill="#4a9e45"/>
<circle cx="282.7" cy="205.6" r="1.3" fill="#4a9e45"/>
<circle cx="309.9" cy="209.3" r="1.3" fill="#4a9e45"/>
<circle cx="337.1" cy="196.6" r="1.3" fill="#4a9e45"/>
<polyline points="255.5,211.3 282.7,209.3 309.9,205.2 337.1,206.3" fill="none" stroke="#1f3a6e" stroke-width="0.9" stroke-dasharray="1.6,1.3" stroke-linejoin="round"/>
<line x1="309.9" y1="203.2" x2="309.9" y2="207.2" stroke="#1f3a6e" stroke-width="0.8"/>
<line x1="308.5" y1="203.2" x2="311.3" y2="203.2" stroke="#1f3a6e" stroke-width="0.8"/>
<line x1="308.5" y1="207.2" x2="311.3" y2="207.2" stroke="#1f3a6e" stroke-width="0.8"/>
<line x1="337.1" y1="197.8" x2="337.1" y2="214.8" stroke="#1f3a6e" stroke-width="0.8"/>
<line x1="335.7" y1="197.8" x2="338.5" y2="197.8" stroke="#1f3a6e" stroke-width="0.8"/>
<line x1="335.7" y1="214.8" x2="338.5" y2="214.8" stroke="#1f3a6e" stroke-width="0.8"/>
<circle cx="255.5" cy="211.3" r="1.3" fill="#1f3a6e"/>
<circle cx="282.7" cy="209.3" r="1.3" fill="#1f3a6e"/>
<circle cx="309.9" cy="205.2" r="1.3" fill="#1f3a6e"/>
<circle cx="337.1" cy="206.3" r="1.3" fill="#1f3a6e"/>
<polyline points="255.5,211.9 282.7,210.3 309.9,211.3 337.1,198.2" fill="none" stroke="#1f3a6e" stroke-width="1" stroke-linejoin="round"/>
<line x1="337.1" y1="196.2" x2="337.1" y2="200.2" stroke="#1f3a6e" stroke-width="0.8"/>
<line x1="335.7" y1="196.2" x2="338.5" y2="196.2" stroke="#1f3a6e" stroke-width="0.8"/>
<line x1="335.7" y1="200.2" x2="338.5" y2="200.2" stroke="#1f3a6e" stroke-width="0.8"/>
<circle cx="255.5" cy="211.9" r="1.3" fill="#1f3a6e"/>
<circle cx="282.7" cy="210.3" r="1.3" fill="#1f3a6e"/>
<circle cx="309.9" cy="211.3" r="1.3" fill="#1f3a6e"/>
<circle cx="337.1" cy="198.2" r="1.3" fill="#1f3a6e"/>
<rect x="254.2" y="224" width="2.6" height="5" fill="#b5203f"/>
<text font-size="9" text-anchor="middle" fill="#333" transform="translate(461.5 157) scale(1.1 1)">PLT</text>
<line x1="402.3" y1="165.8" x2="402.3" y2="247.9" stroke="#222" stroke-width="1.1"/>
<line x1="399.1" y1="247.4" x2="402.3" y2="247.4" stroke="#222" stroke-width="1"/>
<text font-size="6.5" text-anchor="end" fill="#333" transform="translate(396.7 250.4) scale(1.1 1)">0</text>
<line x1="399.1" y1="221.1" x2="402.3" y2="221.1" stroke="#222" stroke-width="1"/>
<text font-size="6.5" text-anchor="end" fill="#333" transform="translate(396.7 224.1) scale(1.1 1)">500</text>
<line x1="399.1" y1="194.8" x2="402.3" y2="194.8" stroke="#222" stroke-width="1"/>
<text font-size="6.5" text-anchor="end" fill="#333" transform="translate(396.7 197.8) scale(1.1 1)">1000</text>
<line x1="399.1" y1="168.5" x2="402.3" y2="168.5" stroke="#222" stroke-width="1"/>
<text font-size="6.5" text-anchor="end" fill="#333" transform="translate(396.7 171.5) scale(1.1 1)">1500</text>
<line x1="401.8" y1="247.4" x2="520" y2="247.4" stroke="#222" stroke-width="1.1"/>
<line x1="420.3" y1="247.4" x2="420.3" y2="250.4" stroke="#222" stroke-width="1"/>
<text font-size="6.5" text-anchor="middle" fill="#333" transform="translate(420.3 260) scale(1.1 1)">W2</text>
<line x1="447.3" y1="247.4" x2="447.3" y2="250.4" stroke="#222" stroke-width="1"/>
<text font-size="6.5" text-anchor="middle" fill="#333" transform="translate(447.3 260) scale(1.1 1)">W4</text>
<line x1="474.3" y1="247.4" x2="474.3" y2="250.4" stroke="#222" stroke-width="1"/>
<text font-size="6.5" text-anchor="middle" fill="#333" transform="translate(474.3 260) scale(1.1 1)">W6</text>
<line x1="501.3" y1="247.4" x2="501.3" y2="250.4" stroke="#222" stroke-width="1"/>
<text font-size="6.5" text-anchor="middle" fill="#333" transform="translate(501.3 260) scale(1.1 1)">W8</text>
<text font-size="9.1" text-anchor="middle" fill="#333" transform="translate(375 202.5) rotate(-90) scale(0.78 1)">10<tspan font-size="5.8" dy="-4.2">9</tspan><tspan dy="4.2">/L</tspan></text>
<polyline points="420.3,229.8 447.3,217.3 474.3,225.4 501.3,228.4" fill="none" stroke="#5db04f" stroke-width="0.9" stroke-dasharray="1.6,1.3" stroke-linejoin="round"/>
<line x1="474.3" y1="221.4" x2="474.3" y2="229.4" stroke="#5db04f" stroke-width="0.8"/>
<line x1="472.9" y1="221.4" x2="475.7" y2="221.4" stroke="#5db04f" stroke-width="0.8"/>
<line x1="472.9" y1="229.4" x2="475.7" y2="229.4" stroke="#5db04f" stroke-width="0.8"/>
<line x1="501.3" y1="224.4" x2="501.3" y2="232.4" stroke="#5db04f" stroke-width="0.8"/>
<line x1="499.9" y1="224.4" x2="502.7" y2="224.4" stroke="#5db04f" stroke-width="0.8"/>
<line x1="499.9" y1="232.4" x2="502.7" y2="232.4" stroke="#5db04f" stroke-width="0.8"/>
<circle cx="420.3" cy="229.8" r="1.3" fill="#5db04f"/>
<circle cx="447.3" cy="217.3" r="1.3" fill="#5db04f"/>
<circle cx="474.3" cy="225.4" r="1.3" fill="#5db04f"/>
<circle cx="501.3" cy="228.4" r="1.3" fill="#5db04f"/>
<polyline points="420.3,234.5 447.3,218.3 474.3,215.7 501.3,217.3" fill="none" stroke="#4a9e45" stroke-width="1" stroke-linejoin="round"/>
<line x1="474.3" y1="213.7" x2="474.3" y2="217.7" stroke="#4a9e45" stroke-width="0.8"/>
<line x1="472.9" y1="213.7" x2="475.7" y2="213.7" stroke="#4a9e45" stroke-width="0.8"/>
<line x1="472.9" y1="217.7" x2="475.7" y2="217.7" stroke="#4a9e45" stroke-width="0.8"/>
<line x1="501.3" y1="213.8" x2="501.3" y2="220.8" stroke="#4a9e45" stroke-width="0.8"/>
<line x1="499.9" y1="213.8" x2="502.7" y2="213.8" stroke="#4a9e45" stroke-width="0.8"/>
<line x1="499.9" y1="220.8" x2="502.7" y2="220.8" stroke="#4a9e45" stroke-width="0.8"/>
<circle cx="420.3" cy="234.5" r="1.3" fill="#4a9e45"/>
<circle cx="447.3" cy="218.3" r="1.3" fill="#4a9e45"/>
<circle cx="474.3" cy="215.7" r="1.3" fill="#4a9e45"/>
<circle cx="501.3" cy="217.3" r="1.3" fill="#4a9e45"/>
<polyline points="420.3,233.5 447.3,216.3 474.3,229.8 501.3,228.4" fill="none" stroke="#1f3a6e" stroke-width="0.9" stroke-dasharray="1.6,1.3" stroke-linejoin="round"/>
<line x1="447.3" y1="214.3" x2="447.3" y2="218.3" stroke="#1f3a6e" stroke-width="0.8"/>
<line x1="445.9" y1="214.3" x2="448.7" y2="214.3" stroke="#1f3a6e" stroke-width="0.8"/>
<line x1="445.9" y1="218.3" x2="448.7" y2="218.3" stroke="#1f3a6e" stroke-width="0.8"/>
<line x1="474.3" y1="225.3" x2="474.3" y2="234.3" stroke="#1f3a6e" stroke-width="0.8"/>
<line x1="472.9" y1="225.3" x2="475.7" y2="225.3" stroke="#1f3a6e" stroke-width="0.8"/>
<line x1="472.9" y1="234.3" x2="475.7" y2="234.3" stroke="#1f3a6e" stroke-width="0.8"/>
<line x1="501.3" y1="222.9" x2="501.3" y2="233.9" stroke="#1f3a6e" stroke-width="0.8"/>
<line x1="499.9" y1="222.9" x2="502.7" y2="222.9" stroke="#1f3a6e" stroke-width="0.8"/>
<line x1="499.9" y1="233.9" x2="502.7" y2="233.9" stroke="#1f3a6e" stroke-width="0.8"/>
<circle cx="420.3" cy="233.5" r="1.3" fill="#1f3a6e"/>
<circle cx="447.3" cy="216.3" r="1.3" fill="#1f3a6e"/>
<circle cx="474.3" cy="229.8" r="1.3" fill="#1f3a6e"/>
<circle cx="501.3" cy="228.4" r="1.3" fill="#1f3a6e"/>
<polyline points="420.3,236.5 447.3,215.3 474.3,204.6 501.3,194.1" fill="none" stroke="#1f3a6e" stroke-width="1" stroke-linejoin="round"/>
<line x1="420.3" y1="234.5" x2="420.3" y2="238.5" stroke="#1f3a6e" stroke-width="0.8"/>
<line x1="418.9" y1="234.5" x2="421.7" y2="234.5" stroke="#1f3a6e" stroke-width="0.8"/>
<line x1="418.9" y1="238.5" x2="421.7" y2="238.5" stroke="#1f3a6e" stroke-width="0.8"/>
<line x1="447.3" y1="213.3" x2="447.3" y2="217.3" stroke="#1f3a6e" stroke-width="0.8"/>
<line x1="445.9" y1="213.3" x2="448.7" y2="213.3" stroke="#1f3a6e" stroke-width="0.8"/>
<line x1="445.9" y1="217.3" x2="448.7" y2="217.3" stroke="#1f3a6e" stroke-width="0.8"/>
<line x1="474.3" y1="203.1" x2="474.3" y2="206.1" stroke="#1f3a6e" stroke-width="0.8"/>
<line x1="472.9" y1="203.1" x2="475.7" y2="203.1" stroke="#1f3a6e" stroke-width="0.8"/>
<line x1="472.9" y1="206.1" x2="475.7" y2="206.1" stroke="#1f3a6e" stroke-width="0.8"/>
<line x1="501.3" y1="189.1" x2="501.3" y2="199.1" stroke="#1f3a6e" stroke-width="0.8"/>
<line x1="499.9" y1="189.1" x2="502.7" y2="189.1" stroke="#1f3a6e" stroke-width="0.8"/>
<line x1="499.9" y1="199.1" x2="502.7" y2="199.1" stroke="#1f3a6e" stroke-width="0.8"/>
<circle cx="420.3" cy="236.5" r="1.3" fill="#1f3a6e"/>
<circle cx="447.3" cy="215.3" r="1.3" fill="#1f3a6e"/>
<circle cx="474.3" cy="204.6" r="1.3" fill="#1f3a6e"/>
<circle cx="501.3" cy="194.1" r="1.3" fill="#1f3a6e"/>
<rect x="419" y="243.2" width="2.6" height="3.5" fill="#b5203f"/>
<line x1="406.2" y1="166.9" x2="415.4" y2="166.9" stroke="#4a9e45" stroke-width="0.9"/>
<circle cx="410.8" cy="166.9" r="1" fill="#4a9e45"/>
<text font-size="6.3" text-anchor="start" fill="#333" transform="translate(419.2 169.2) scale(0.94 1)">RUXD&#8722;2-day42</text>
<line x1="406.2" y1="175.2" x2="415.4" y2="175.2" stroke="#5db04f" stroke-width="0.9" stroke-dasharray="1.6,1.3"/>
<circle cx="410.8" cy="175.2" r="1" fill="#5db04f"/>
<text font-size="6.3" text-anchor="start" fill="#333" transform="translate(419.2 177.5) scale(0.94 1)">RUXD&#8722;2-day28</text>
<line x1="406.2" y1="183.5" x2="415.4" y2="183.5" stroke="#1f3a6e" stroke-width="0.9"/>
<circle cx="410.8" cy="183.5" r="1" fill="#1f3a6e"/>
<text font-size="6.3" text-anchor="start" fill="#333" transform="translate(419.2 185.8) scale(0.94 1)">RUXD+2-day42</text>
<line x1="406.2" y1="191.8" x2="415.4" y2="191.8" stroke="#1f3a6e" stroke-width="0.9" stroke-dasharray="1.6,1.3"/>
<circle cx="410.8" cy="191.8" r="1" fill="#1f3a6e"/>
<text font-size="6.3" text-anchor="start" fill="#333" transform="translate(419.2 194.1) scale(0.94 1)">RUXD+2-day28</text>
<line x1="406.2" y1="200.1" x2="415.4" y2="200.1" stroke="#b5203f" stroke-width="0.9"/>
<circle cx="410.8" cy="200.1" r="1" fill="#b5203f"/>
<text font-size="6.3" text-anchor="start" fill="#333" transform="translate(419.2 202.4) scale(0.94 1)">BMF</text>
<text font-size="12" text-anchor="start" fill="#111" font-weight="bold" transform="translate(0.6 165.6)">C</text>
<line x1="46" y1="162" x2="46" y2="245.5" stroke="#222" stroke-width="1.1"/>
<line x1="42.8" y1="245" x2="46" y2="245" stroke="#222" stroke-width="1"/>
<text font-size="6.3" text-anchor="end" fill="#333" transform="translate(40.4 248) scale(1.05 1)">0</text>
<line x1="42.8" y1="229" x2="46" y2="229" stroke="#222" stroke-width="1"/>
<text font-size="6.3" text-anchor="end" fill="#333" transform="translate(40.4 232) scale(1.05 1)">20</text>
<line x1="42.8" y1="213" x2="46" y2="213" stroke="#222" stroke-width="1"/>
<text font-size="6.3" text-anchor="end" fill="#333" transform="translate(40.4 216) scale(1.05 1)">40</text>
<line x1="42.8" y1="197" x2="46" y2="197" stroke="#222" stroke-width="1"/>
<text font-size="6.3" text-anchor="end" fill="#333" transform="translate(40.4 200) scale(1.05 1)">60</text>
<line x1="42.8" y1="181" x2="46" y2="181" stroke="#222" stroke-width="1"/>
<text font-size="6.3" text-anchor="end" fill="#333" transform="translate(40.4 184) scale(1.05 1)">80</text>
<line x1="42.8" y1="165" x2="46" y2="165" stroke="#222" stroke-width="1"/>
<text font-size="6.3" text-anchor="end" fill="#333" transform="translate(40.4 168) scale(1.05 1)">100</text>
<line x1="45.5" y1="245" x2="166.5" y2="245" stroke="#222" stroke-width="1.1"/>
<line x1="46" y1="245" x2="46" y2="248" stroke="#222" stroke-width="1"/>
<text font-size="6.3" text-anchor="middle" fill="#333" transform="translate(46 256.2) scale(1.05 1)">0</text>
<line x1="85.7" y1="245" x2="85.7" y2="248" stroke="#222" stroke-width="1"/>
<text font-size="6.3" text-anchor="middle" fill="#333" transform="translate(85.7 256.2) scale(1.05 1)">20</text>
<line x1="125.4" y1="245" x2="125.4" y2="248" stroke="#222" stroke-width="1"/>
<text font-size="6.3" text-anchor="middle" fill="#333" transform="translate(125.4 256.2) scale(1.05 1)">40</text>
<line x1="165.1" y1="245" x2="165.1" y2="248" stroke="#222" stroke-width="1"/>
<text font-size="6.3" text-anchor="middle" fill="#333" transform="translate(165.1 256.2) scale(1.05 1)">60</text>
<text font-size="8.4" text-anchor="middle" fill="#333" transform="translate(22.1 199.5) rotate(-90) scale(0.86 1)">Percent survival</text>
<text font-size="8.6" text-anchor="middle" fill="#333" transform="translate(110 268.8) scale(0.85 1)">Days elapsed</text>
<polyline points="46,165 77.3,165 77.3,197 79.6,197 79.6,245" fill="none" stroke="#b5203f" stroke-width="1.1" stroke-linejoin="round"/>
<line x1="77.5" y1="165" x2="156.7" y2="165" stroke="#7a9a88" stroke-width="0.5"/>
<line x1="77.5" y1="165" x2="156.7" y2="165" stroke="#3a8a40" stroke-width="1.1" stroke-dasharray="2.2,1.1"/>
<line x1="156.7" y1="165.4" x2="156.7" y2="162" stroke="#2d4a38" stroke-width="1"/>
<path d="M133.25,158.45 L133.25,161.55 M131.91,159.22 L134.59,160.78 M134.59,159.22 L131.91,160.78" stroke="#1a1a1a" stroke-width="1.0"/>
<path d="M137.45,158.45 L137.45,161.55 M136.11,159.22 L138.79,160.78 M138.79,159.22 L136.11,160.78" stroke="#1a1a1a" stroke-width="1.0"/>
<path d="M141.65,158.45 L141.65,161.55 M140.31,159.22 L142.99,160.78 M142.99,159.22 L140.31,160.78" stroke="#1a1a1a" stroke-width="1.0"/>
<path d="M145.85,158.45 L145.85,161.55 M144.51,159.22 L147.19,160.78 M147.19,159.22 L144.51,160.78" stroke="#1a1a1a" stroke-width="1.0"/>
<line x1="100" y1="209.5" x2="109.7" y2="209.5" stroke="#b5203f" stroke-width="0.9"/>
<text font-size="6.5" text-anchor="start" fill="#333" transform="translate(113.8 211.9) scale(1.06 1)">BMF</text>
<line x1="100" y1="219.2" x2="109.7" y2="219.2" stroke="#2e7d32" stroke-width="0.9" stroke-dasharray="2,1.2"/>
<text font-size="6.5" text-anchor="start" fill="#333" transform="translate(113.8 221.6) scale(1.06 1)">BMF+RUXD&#8722;2</text>
<line x1="100" y1="228.9" x2="109.7" y2="228.9" stroke="#1f3a6e" stroke-width="0.9"/>
<text font-size="6.5" text-anchor="start" fill="#333" transform="translate(113.8 231.3) scale(1.06 1)">BMF+RUXD+2</text>
<line x1="104.8" y1="216.8" x2="104.8" y2="219.2" stroke="#2e7d32" stroke-width="1"/>
<circle cx="104.8" cy="228.9" r="0.8" fill="#1f3a6e"/>
<text font-size="12" text-anchor="start" fill="#111" font-weight="bold" transform="translate(0.6 296.8) scale(1.1 1)">D</text>
<rect x="102.5" y="292.7" width="66.3" height="11.5" fill="white" stroke="#4a4a4a" stroke-width="1.1"/>
<text font-size="6.6" text-anchor="middle" fill="#333" transform="translate(135.5 301.2) scale(1.1 1)">Rux-chow (2 g/Kg)</text>
<line x1="124.6" y1="304.6" x2="124.6" y2="314" stroke="#222" stroke-width="0.9"/>
<path d="M124.6,316.9 l-1.7,-3.6 l3.4,0 z" fill="#222"/>
<line x1="134.2" y1="304.6" x2="134.2" y2="314" stroke="#222" stroke-width="0.9"/>
<path d="M134.2,316.9 l-1.7,-3.6 l3.4,0 z" fill="#222"/>
<circle cx="151.2" cy="307.7" r="4.1" fill="#2f6f2f"/>
<circle cx="151.2" cy="307.7" r="3.2" fill="#3b8a3b"/>
<path d="M149.35,307.9 l1.43,1.84 M151.41,306.26 l1.56,2.05" stroke="#c6f2c0" stroke-width="1.31" stroke-linecap="round"/>
<circle cx="151.2" cy="313.8" r="4.1" fill="#1b2550"/>
<circle cx="151.2" cy="313.8" r="3.2" fill="#22306a"/>
<path d="M149.35,314 l1.43,1.84 M151.41,312.37 l1.56,2.05" stroke="#dfe6f6" stroke-width="1.31" stroke-linecap="round"/>
<text font-size="6.6" text-anchor="start" fill="#333" transform="translate(94.8 324.4) scale(1.1 1)">Day 0</text>
<text font-size="6.6" text-anchor="middle" fill="#333" transform="translate(124.6 324.4) scale(1.1 1)">4</text>
<text font-size="6.6" text-anchor="middle" fill="#333" transform="translate(134.2 324.4) scale(1.1 1)">6</text>
<text font-size="6.6" text-anchor="middle" fill="#333" transform="translate(151.5 324.4) scale(1.1 1)">28</text>
<text font-size="6.6" text-anchor="middle" fill="#333" transform="translate(168.8 324.4) scale(1.1 1)">70</text>
<line x1="111.5" y1="331.2" x2="168.8" y2="331.2" stroke="#333" stroke-width="1"/>
<line x1="111.8" y1="328.8" x2="111.8" y2="331.2" stroke="#333" stroke-width="0.9"/>
<line x1="124.4" y1="328.8" x2="124.4" y2="331.2" stroke="#333" stroke-width="0.9"/>
<line x1="134" y1="328.8" x2="134" y2="331.2" stroke="#333" stroke-width="0.9"/>
<line x1="151.5" y1="328.8" x2="151.5" y2="331.2" stroke="#333" stroke-width="0.9"/>
<line x1="168.5" y1="328.8" x2="168.5" y2="331.2" stroke="#333" stroke-width="0.9"/>
<text font-size="6.3" text-anchor="middle" fill="#333" transform="translate(29.7 354)">B6</text>
<g transform="translate(5.5 355.9) scale(1.03 0.92)">
<path d="M10,13.8 C7.5,14.2 5.5,14.6 4.9,15 C2.6,15.8 0.6,16.5 0.5,17.8 C0.4,19.2 1.8,19.6 4,19.6 L15.4,19.6 C22,19.4 28,18.8 31.1,18.2 C32.3,17.9 33.2,17.4 33.8,16.8 M31.1,18.2 C33,18.6 35,19.6 35.6,21.4" fill="none" stroke="#111" stroke-width="1"/>
<path d="M9.7,13.6 C9.3,11.2 10.2,8.6 12,6.6 C13.6,4.9 16,3.4 18.9,2.7 C20.8,2.3 22.6,2.4 24.1,2.5 C25.2,2.5 26,2.3 26.7,2.1 C27,1.2 27.6,0.6 28.5,0.3 C29.5,0 30.5,0 31,0.2 C32.2,0.4 33,1 33.3,1.6 C34.5,2.2 35.5,2.8 36.3,3.4 C37.3,4.1 38.2,4.9 38.7,5.6 C39.1,6.1 39.2,6.6 38.9,7.1 C38.2,8.3 37.3,9.4 36.3,10.2 C35.2,11.2 34,12.1 32.8,12.7 C31.8,13.2 30.9,13.6 30.2,14 L30.6,15.9 L28.4,16.2 L28.0,15.2 C26.5,15.4 25.2,15.5 24.1,15.6 C22.8,15.7 21.6,15.8 20.6,15.9 L18.6,17.0 L14.0,17.1 L12.8,15.6 C11.5,15.0 10.4,14.4 9.7,13.6 Z" fill="#111" stroke="#000" stroke-width="0.6"/>
<path d="M27.2,2.6 C27,1.2 28.2,0.1 29.8,0.1 C31.4,0.1 32.6,1.1 32.6,2.6" fill="none" stroke="#555" stroke-width="0.5"/>
</g>
<g transform="translate(14 384.5) rotate(10)">
<path d="M7.5,0 C7.5,3.48 4.12,5.8 0,5.8 C-4.5,5.8 -7.5,3.19 -7.5,0 C-7.5,-3.48 -3.75,-5.8 0,-5.8 C3.75,-5.8 7.5,-3.19 7.5,0 Z" fill="white" stroke="#111" stroke-width="0.85"/>
<path d="M7.35,-0.87 C7.5,3.48 4.12,5.8 -1.5,5.8" fill="none" stroke="#111" stroke-width="1.5" stroke-linecap="round"/>
</g>
<g transform="translate(28 388.8) rotate(-5)">
<path d="M7,0 C7,3.18 3.85,5.3 0,5.3 C-4.2,5.3 -7,2.92 -7,0 C-7,-3.18 -3.5,-5.3 0,-5.3 C3.5,-5.3 7,-2.92 7,0 Z" fill="white" stroke="#111" stroke-width="0.85"/>
<path d="M6.86,-0.79 C7,3.18 3.85,5.3 -1.4,5.3" fill="none" stroke="#111" stroke-width="1.5" stroke-linecap="round"/>
</g>
<g transform="translate(43.5 384) rotate(20)">
<path d="M6.5,0 C6.5,3.78 3.58,6.3 0,6.3 C-3.9,6.3 -6.5,3.47 -6.5,0 C-6.5,-3.78 -3.25,-6.3 0,-6.3 C3.25,-6.3 6.5,-3.47 6.5,0 Z" fill="white" stroke="#111" stroke-width="0.85"/>
<path d="M6.37,-0.94 C6.5,3.78 3.58,6.3 -1.3,6.3" fill="none" stroke="#111" stroke-width="1.5" stroke-linecap="round"/>
</g>
<line x1="48.8" y1="368.4" x2="89.2" y2="347.8" stroke="#222" stroke-width="0.9"/>
<path d="M89.2,347.8 L86.99,350.5 L85.71,348.01 Z" fill="#222"/>
<line x1="53.1" y1="369.9" x2="89.7" y2="369.9" stroke="#222" stroke-width="0.9"/>
<path d="M89.7,369.9 L86.5,371.3 L86.5,368.5 Z" fill="#222"/>
<line x1="48.3" y1="371.3" x2="89.2" y2="389.1" stroke="#222" stroke-width="0.9"/>
<path d="M89.2,389.1 L85.71,389.11 L86.82,386.54 Z" fill="#222"/>
<text font-size="4.7" text-anchor="middle" fill="#333" transform="translate(66 357) rotate(-27) scale(0.98 1)">5 &#215; 10<tspan font-size="3.0" dy="-1.7">6</tspan><tspan dy="1.7"> LN cells</tspan></text>
<text font-size="4.7" text-anchor="middle" fill="#333" transform="translate(71.9 367.5)">5 &#215; 10<tspan font-size="3.0" dy="-1.7">6</tspan></text>
<text font-size="4.7" text-anchor="middle" fill="#333" transform="translate(72.8 375.7)">LN cells</text>
<text font-size="4.7" text-anchor="middle" fill="#333" transform="translate(64.3 384.6) rotate(23.5) scale(0.98 1)">5 &#215; 10<tspan font-size="3.0" dy="-1.7">6</tspan><tspan dy="1.7"> LN cells</tspan></text>
<g transform="translate(91 334.9) scale(1.03 0.92)">
<path d="M10,13.8 C7.5,14.2 5.5,14.6 4.9,15 C2.6,15.8 0.6,16.5 0.5,17.8 C0.4,19.2 1.8,19.6 4,19.6 L15.4,19.6 C22,19.4 28,18.8 31.1,18.2 C32.3,17.9 33.2,17.4 33.8,16.8 M31.1,18.2 C33,18.6 35,19.6 35.6,21.4" fill="none" stroke="#8a7d45" stroke-width="1"/>
<path d="M9.7,13.6 C9.3,11.2 10.2,8.6 12,6.6 C13.6,4.9 16,3.4 18.9,2.7 C20.8,2.3 22.6,2.4 24.1,2.5 C25.2,2.5 26,2.3 26.7,2.1 C27,1.2 27.6,0.6 28.5,0.3 C29.5,0 30.5,0 31,0.2 C32.2,0.4 33,1 33.3,1.6 C34.5,2.2 35.5,2.8 36.3,3.4 C37.3,4.1 38.2,4.9 38.7,5.6 C39.1,6.1 39.2,6.6 38.9,7.1 C38.2,8.3 37.3,9.4 36.3,10.2 C35.2,11.2 34,12.1 32.8,12.7 C31.8,13.2 30.9,13.6 30.2,14 L30.6,15.9 L28.4,16.2 L28.0,15.2 C26.5,15.4 25.2,15.5 24.1,15.6 C22.8,15.7 21.6,15.8 20.6,15.9 L18.6,17.0 L14.0,17.1 L12.8,15.6 C11.5,15.0 10.4,14.4 9.7,13.6 Z" fill="#fdc200" stroke="#8f6c12" stroke-width="0.9"/>
<path d="M10.9,13 C10.4,10.5 11.5,7.8 13.6,6 M20.5,15.4 C23,13.6 26,12.8 29,13.2 M33.6,3 C35.4,4.4 36.4,6.2 36.6,8.4" fill="none" stroke="#eb9300" stroke-width="1.4" stroke-linecap="round" opacity="0.85"/>
<path d="M27.2,2.6 C27,1.2 28.2,0.1 29.8,0.1 C31.4,0.1 32.6,1.1 32.6,2.6" fill="none" stroke="#8f6c12" stroke-width="0.9"/>
<circle cx="35.4" cy="5.0" r="0.6" fill="#3a2a00"/>
<path d="M28.4,16.1 L30.6,15.8 M14.2,17.0 L18.4,16.9" stroke="#3a2a00" stroke-width="1.0"/>
</g>
<text font-size="5.6" text-anchor="middle" fill="#e0400c" font-weight="bold" transform="translate(111.7 346) scale(0.9 1)">TBI 5 Gy</text>
<g transform="translate(89.5 355.9) scale(1.01 0.92)">
<path d="M10,13.8 C7.5,14.2 5.5,14.6 4.9,15 C2.6,15.8 0.6,16.5 0.5,17.8 C0.4,19.2 1.8,19.6 4,19.6 L15.4,19.6 C22,19.4 28,18.8 31.1,18.2 C32.3,17.9 33.2,17.4 33.8,16.8 M31.1,18.2 C33,18.6 35,19.6 35.6,21.4" fill="none" stroke="#8a7d45" stroke-width="1"/>
<path d="M9.7,13.6 C9.3,11.2 10.2,8.6 12,6.6 C13.6,4.9 16,3.4 18.9,2.7 C20.8,2.3 22.6,2.4 24.1,2.5 C25.2,2.5 26,2.3 26.7,2.1 C27,1.2 27.6,0.6 28.5,0.3 C29.5,0 30.5,0 31,0.2 C32.2,0.4 33,1 33.3,1.6 C34.5,2.2 35.5,2.8 36.3,3.4 C37.3,4.1 38.2,4.9 38.7,5.6 C39.1,6.1 39.2,6.6 38.9,7.1 C38.2,8.3 37.3,9.4 36.3,10.2 C35.2,11.2 34,12.1 32.8,12.7 C31.8,13.2 30.9,13.6 30.2,14 L30.6,15.9 L28.4,16.2 L28.0,15.2 C26.5,15.4 25.2,15.5 24.1,15.6 C22.8,15.7 21.6,15.8 20.6,15.9 L18.6,17.0 L14.0,17.1 L12.8,15.6 C11.5,15.0 10.4,14.4 9.7,13.6 Z" fill="#fdc200" stroke="#8f6c12" stroke-width="0.9"/>
<path d="M10.9,13 C10.4,10.5 11.5,7.8 13.6,6 M20.5,15.4 C23,13.6 26,12.8 29,13.2 M33.6,3 C35.4,4.4 36.4,6.2 36.6,8.4" fill="none" stroke="#eb9300" stroke-width="1.4" stroke-linecap="round" opacity="0.85"/>
<path d="M27.2,2.6 C27,1.2 28.2,0.1 29.8,0.1 C31.4,0.1 32.6,1.1 32.6,2.6" fill="none" stroke="#8f6c12" stroke-width="0.9"/>
<circle cx="35.4" cy="5.0" r="0.6" fill="#3a2a00"/>
<path d="M28.4,16.1 L30.6,15.8 M14.2,17.0 L18.4,16.9" stroke="#3a2a00" stroke-width="1.0"/>
</g>
<text font-size="5.6" text-anchor="middle" fill="#e0400c" font-weight="bold" transform="translate(112.7 366) scale(0.9 1)">TBI 5 Gy</text>
<g transform="translate(88 378.4) scale(1.03 0.92)">
<path d="M10,13.8 C7.5,14.2 5.5,14.6 4.9,15 C2.6,15.8 0.6,16.5 0.5,17.8 C0.4,19.2 1.8,19.6 4,19.6 L15.4,19.6 C22,19.4 28,18.8 31.1,18.2 C32.3,17.9 33.2,17.4 33.8,16.8 M31.1,18.2 C33,18.6 35,19.6 35.6,21.4" fill="none" stroke="#8a7d45" stroke-width="1"/>
<path d="M9.7,13.6 C9.3,11.2 10.2,8.6 12,6.6 C13.6,4.9 16,3.4 18.9,2.7 C20.8,2.3 22.6,2.4 24.1,2.5 C25.2,2.5 26,2.3 26.7,2.1 C27,1.2 27.6,0.6 28.5,0.3 C29.5,0 30.5,0 31,0.2 C32.2,0.4 33,1 33.3,1.6 C34.5,2.2 35.5,2.8 36.3,3.4 C37.3,4.1 38.2,4.9 38.7,5.6 C39.1,6.1 39.2,6.6 38.9,7.1 C38.2,8.3 37.3,9.4 36.3,10.2 C35.2,11.2 34,12.1 32.8,12.7 C31.8,13.2 30.9,13.6 30.2,14 L30.6,15.9 L28.4,16.2 L28.0,15.2 C26.5,15.4 25.2,15.5 24.1,15.6 C22.8,15.7 21.6,15.8 20.6,15.9 L18.6,17.0 L14.0,17.1 L12.8,15.6 C11.5,15.0 10.4,14.4 9.7,13.6 Z" fill="#fdc200" stroke="#8f6c12" stroke-width="0.9"/>
<path d="M10.9,13 C10.4,10.5 11.5,7.8 13.6,6 M20.5,15.4 C23,13.6 26,12.8 29,13.2 M33.6,3 C35.4,4.4 36.4,6.2 36.6,8.4" fill="none" stroke="#eb9300" stroke-width="1.4" stroke-linecap="round" opacity="0.85"/>
<path d="M27.2,2.6 C27,1.2 28.2,0.1 29.8,0.1 C31.4,0.1 32.6,1.1 32.6,2.6" fill="none" stroke="#8f6c12" stroke-width="0.9"/>
<circle cx="35.4" cy="5.0" r="0.6" fill="#3a2a00"/>
<path d="M28.4,16.1 L30.6,15.8 M14.2,17.0 L18.4,16.9" stroke="#3a2a00" stroke-width="1.0"/>
</g>
<text font-size="5.6" text-anchor="middle" fill="#e0400c" font-weight="bold" transform="translate(111.5 389) scale(0.9 1)">TBI 5 Gy</text>
<line x1="118.5" y1="373.2" x2="126.5" y2="374.6" stroke="#6ab04c" stroke-width="0.9"/>
<line x1="119.5" y1="395.2" x2="128" y2="395.2" stroke="#d04050" stroke-width="0.9"/>
<text font-size="8.1" text-anchor="start" fill="#333" transform="translate(133 350.8) scale(1.04 1)">BMF+RUXD+4</text>
<text font-size="8.1" text-anchor="start" fill="#333" transform="translate(133 371.5) scale(1.04 1)">BMF+RUX<tspan fill="#5db04f">D+6</tspan></text>
<text font-size="9.8" text-anchor="start" fill="#333" transform="translate(133 397.2)">BMF</text>
<text font-size="6.6" text-anchor="middle" fill="#333" transform="translate(110 408.5)">CByB6F1</text>
<text font-size="12" text-anchor="start" fill="#111" font-weight="bold" transform="translate(218.6 297)">E</text>
<text font-size="9" text-anchor="middle" fill="#333" transform="translate(298 302.9) scale(1.1 1)">BW</text>
<line x1="237.5" y1="312" x2="237.5" y2="391.1" stroke="#222" stroke-width="1.1"/>
<line x1="234.3" y1="390.6" x2="237.5" y2="390.6" stroke="#222" stroke-width="1"/>
<text font-size="6.3" text-anchor="end" fill="#333" transform="translate(231.9 393.6) scale(1.05 1)">0</text>
<line x1="234.3" y1="365.37" x2="237.5" y2="365.37" stroke="#222" stroke-width="1"/>
<text font-size="6.3" text-anchor="end" fill="#333" transform="translate(231.9 368.37) scale(1.05 1)">10</text>
<line x1="234.3" y1="340.14" x2="237.5" y2="340.14" stroke="#222" stroke-width="1"/>
<text font-size="6.3" text-anchor="end" fill="#333" transform="translate(231.9 343.14) scale(1.05 1)">20</text>
<line x1="234.3" y1="314.91" x2="237.5" y2="314.91" stroke="#222" stroke-width="1"/>
<text font-size="6.3" text-anchor="end" fill="#333" transform="translate(231.9 317.91) scale(1.05 1)">30</text>
<line x1="237" y1="390.6" x2="355" y2="390.6" stroke="#222" stroke-width="1.1"/>
<line x1="237.5" y1="390.6" x2="237.5" y2="393.6" stroke="#222" stroke-width="1"/>
<text font-size="6.3" text-anchor="middle" fill="#333" transform="translate(237.5 402.6) scale(1.05 1)">0</text>
<line x1="260.08" y1="390.6" x2="260.08" y2="393.6" stroke="#222" stroke-width="1"/>
<text font-size="6.3" text-anchor="middle" fill="#333" transform="translate(260.08 402.6) scale(1.05 1)">2</text>
<line x1="282.66" y1="390.6" x2="282.66" y2="393.6" stroke="#222" stroke-width="1"/>
<text font-size="6.3" text-anchor="middle" fill="#333" transform="translate(282.66 402.6) scale(1.05 1)">4</text>
<line x1="305.24" y1="390.6" x2="305.24" y2="393.6" stroke="#222" stroke-width="1"/>
<text font-size="6.3" text-anchor="middle" fill="#333" transform="translate(305.24 402.6) scale(1.05 1)">6</text>
<line x1="327.82" y1="390.6" x2="327.82" y2="393.6" stroke="#222" stroke-width="1"/>
<text font-size="6.3" text-anchor="middle" fill="#333" transform="translate(327.82 402.6) scale(1.05 1)">8</text>
<line x1="350.4" y1="390.6" x2="350.4" y2="393.6" stroke="#222" stroke-width="1"/>
<text font-size="6.3" text-anchor="middle" fill="#333" transform="translate(350.4 402.6) scale(1.05 1)">10</text>
<text font-size="9.2" text-anchor="middle" fill="#333" transform="translate(217.6 347.8) rotate(-90) scale(0.78 1)">g</text>
<text font-size="9.2" text-anchor="middle" fill="#333" transform="translate(296.3 415.2) scale(0.75 1)">Weeks</text>
<polyline points="237.5,336.4 260.08,336.4 282.66,334 305.24,332.1 327.82,334 350.4,335.2" fill="none" stroke="#4a9e45" stroke-width="1" stroke-linejoin="round"/>
<circle cx="237.5" cy="336.4" r="1.3" fill="#4a9e45"/>
<circle cx="260.08" cy="336.4" r="1.3" fill="#4a9e45"/>
<circle cx="282.66" cy="334" r="1.3" fill="#4a9e45"/>
<circle cx="305.24" cy="332.1" r="1.3" fill="#4a9e45"/>
<circle cx="327.82" cy="334" r="1.3" fill="#4a9e45"/>
<circle cx="350.4" cy="335.2" r="1.3" fill="#4a9e45"/>
<polyline points="237.5,330 260.08,329.2 282.66,328 305.24,327.3 327.82,331.6 350.4,334.8" fill="none" stroke="#1f3a6e" stroke-width="1" stroke-dasharray="2.2,1.6" stroke-linejoin="round"/>
<line x1="237.5" y1="328" x2="237.5" y2="332" stroke="#1f3a6e" stroke-width="0.8"/>
<line x1="236.1" y1="328" x2="238.9" y2="328" stroke="#1f3a6e" stroke-width="0.8"/>
<line x1="236.1" y1="332" x2="238.9" y2="332" stroke="#1f3a6e" stroke-width="0.8"/>
<line x1="260.08" y1="326.8" x2="260.08" y2="331.6" stroke="#1f3a6e" stroke-width="0.8"/>
<line x1="258.68" y1="326.8" x2="261.48" y2="326.8" stroke="#1f3a6e" stroke-width="0.8"/>
<line x1="258.68" y1="331.6" x2="261.48" y2="331.6" stroke="#1f3a6e" stroke-width="0.8"/>
<line x1="282.66" y1="325.6" x2="282.66" y2="330.4" stroke="#1f3a6e" stroke-width="0.8"/>
<line x1="281.26" y1="325.6" x2="284.06" y2="325.6" stroke="#1f3a6e" stroke-width="0.8"/>
<line x1="281.26" y1="330.4" x2="284.06" y2="330.4" stroke="#1f3a6e" stroke-width="0.8"/>
<line x1="305.24" y1="324.6" x2="305.24" y2="330" stroke="#1f3a6e" stroke-width="0.8"/>
<line x1="303.84" y1="324.6" x2="306.64" y2="324.6" stroke="#1f3a6e" stroke-width="0.8"/>
<line x1="303.84" y1="330" x2="306.64" y2="330" stroke="#1f3a6e" stroke-width="0.8"/>
<line x1="327.82" y1="329.2" x2="327.82" y2="334" stroke="#1f3a6e" stroke-width="0.8"/>
<line x1="326.42" y1="329.2" x2="329.22" y2="329.2" stroke="#1f3a6e" stroke-width="0.8"/>
<line x1="326.42" y1="334" x2="329.22" y2="334" stroke="#1f3a6e" stroke-width="0.8"/>
<line x1="350.4" y1="333.3" x2="350.4" y2="336.3" stroke="#1f3a6e" stroke-width="0.8"/>
<line x1="349" y1="333.3" x2="351.8" y2="333.3" stroke="#1f3a6e" stroke-width="0.8"/>
<line x1="349" y1="336.3" x2="351.8" y2="336.3" stroke="#1f3a6e" stroke-width="0.8"/>
<circle cx="237.5" cy="330" r="1.3" fill="#1f3a6e"/>
<circle cx="260.08" cy="329.2" r="1.3" fill="#1f3a6e"/>
<circle cx="282.66" cy="328" r="1.3" fill="#1f3a6e"/>
<circle cx="305.24" cy="327.3" r="1.3" fill="#1f3a6e"/>
<circle cx="327.82" cy="331.6" r="1.3" fill="#1f3a6e"/>
<circle cx="350.4" cy="334.8" r="1.3" fill="#1f3a6e"/>
<polyline points="237.5,336.9 260.08,345.6 282.66,342 305.24,351.3" fill="none" stroke="#b5203f" stroke-width="1.25" stroke-linejoin="round"/>
<line x1="237.5" y1="334.9" x2="237.5" y2="338.9" stroke="#b5203f" stroke-width="1"/>
<line x1="236.1" y1="334.9" x2="238.9" y2="334.9" stroke="#b5203f" stroke-width="1"/>
<line x1="236.1" y1="338.9" x2="238.9" y2="338.9" stroke="#b5203f" stroke-width="1"/>
<line x1="260.08" y1="343.2" x2="260.08" y2="348" stroke="#b5203f" stroke-width="1"/>
<line x1="258.68" y1="343.2" x2="261.48" y2="343.2" stroke="#b5203f" stroke-width="1"/>
<line x1="258.68" y1="348" x2="261.48" y2="348" stroke="#b5203f" stroke-width="1"/>
<line x1="282.66" y1="336" x2="282.66" y2="348" stroke="#b5203f" stroke-width="1"/>
<line x1="281.26" y1="336" x2="284.06" y2="336" stroke="#b5203f" stroke-width="1"/>
<line x1="281.26" y1="348" x2="284.06" y2="348" stroke="#b5203f" stroke-width="1"/>
<circle cx="237.5" cy="336.9" r="2" fill="white" stroke="#b5203f" stroke-width="1.1"/>
<circle cx="260.08" cy="345.6" r="2" fill="white" stroke="#b5203f" stroke-width="1.1"/>
<circle cx="282.66" cy="342" r="2" fill="white" stroke="#b5203f" stroke-width="1.1"/>
<circle cx="305.24" cy="351.3" r="2" fill="white" stroke="#b5203f" stroke-width="1.1"/>
<path d="M252.5,318.85 L252.5,321.95 M251.16,319.62 L253.84,321.17 M253.84,319.62 L251.16,321.17" stroke="#1a1a1a" stroke-width="1.0"/>
<path d="M256.7,318.85 L256.7,321.95 M255.36,319.62 L258.04,321.17 M258.04,319.62 L255.36,321.17" stroke="#1a1a1a" stroke-width="1.0"/>
<path d="M260.9,318.85 L260.9,321.95 M259.56,319.62 L262.24,321.17 M262.24,319.62 L259.56,321.17" stroke="#1a1a1a" stroke-width="1.0"/>
<path d="M265.1,318.85 L265.1,321.95 M263.76,319.62 L266.44,321.17 M266.44,319.62 L263.76,321.17" stroke="#1a1a1a" stroke-width="1.0"/>
<path d="M275.3,318.85 L275.3,321.95 M273.96,319.62 L276.64,321.17 M276.64,319.62 L273.96,321.17" stroke="#1a1a1a" stroke-width="1.0"/>
<path d="M279.5,318.85 L279.5,321.95 M278.16,319.62 L280.84,321.17 M280.84,319.62 L278.16,321.17" stroke="#1a1a1a" stroke-width="1.0"/>
<path d="M283.7,318.85 L283.7,321.95 M282.36,319.62 L285.04,321.17 M285.04,319.62 L282.36,321.17" stroke="#1a1a1a" stroke-width="1.0"/>
<path d="M287.9,318.85 L287.9,321.95 M286.56,319.62 L289.24,321.17 M289.24,319.62 L286.56,321.17" stroke="#1a1a1a" stroke-width="1.0"/>
<path d="M299.2,318.85 L299.2,321.95 M297.86,319.62 L300.54,321.17 M300.54,319.62 L297.86,321.17" stroke="#1a1a1a" stroke-width="1.0"/>
<path d="M303.4,318.85 L303.4,321.95 M302.06,319.62 L304.74,321.17 M304.74,319.62 L302.06,321.17" stroke="#1a1a1a" stroke-width="1.0"/>
<path d="M307.6,318.85 L307.6,321.95 M306.26,319.62 L308.94,321.17 M308.94,319.62 L306.26,321.17" stroke="#1a1a1a" stroke-width="1.0"/>
<path d="M311.8,318.85 L311.8,321.95 M310.46,319.62 L313.14,321.17 M313.14,319.62 L310.46,321.17" stroke="#1a1a1a" stroke-width="1.0"/>
<line x1="247.4" y1="369.8" x2="256" y2="369.8" stroke="#b5203f" stroke-width="1"/>
<circle cx="251.7" cy="369.8" r="1.7" fill="white" stroke="#b5203f" stroke-width="0.9"/>
<text font-size="6.6" text-anchor="start" fill="#333" transform="translate(260.5 372.2) scale(1.04 1)">BMF</text>
<line x1="283.4" y1="368.1" x2="291.8" y2="368.1" stroke="#1f3a6e" stroke-width="1"/>
<circle cx="287.6" cy="368.1" r="1.1" fill="#1f3a6e"/>
<text font-size="6.6" text-anchor="start" fill="#333" transform="translate(296 370.8) scale(1.04 1)">BMF+RUXD+4</text>
<line x1="283.4" y1="378.3" x2="291.8" y2="378.3" stroke="#4a9e45" stroke-width="1"/>
<circle cx="287.6" cy="378.3" r="1.1" fill="#4a9e45"/>
<text font-size="6.6" text-anchor="start" fill="#333" transform="translate(296 380.8) scale(1.04 1)">BMF+RUXD+6</text>
<text font-size="8.8" text-anchor="middle" fill="#333" transform="translate(464.5 303) scale(1.1 1)">NEU</text>
<line x1="402.3" y1="311.9" x2="402.3" y2="390.9" stroke="#222" stroke-width="1.1"/>
<line x1="399.1" y1="390.4" x2="402.3" y2="390.4" stroke="#222" stroke-width="1"/>
<text font-size="6.3" text-anchor="end" fill="#333" transform="translate(396.7 393.4) scale(1.05 1)">0.0</text>
<line x1="399.1" y1="365.2" x2="402.3" y2="365.2" stroke="#222" stroke-width="1"/>
<text font-size="6.3" text-anchor="end" fill="#333" transform="translate(396.7 368.2) scale(1.05 1)">0.5</text>
<line x1="399.1" y1="340" x2="402.3" y2="340" stroke="#222" stroke-width="1"/>
<text font-size="6.3" text-anchor="end" fill="#333" transform="translate(396.7 343) scale(1.05 1)">1.0</text>
<line x1="399.1" y1="314.8" x2="402.3" y2="314.8" stroke="#222" stroke-width="1"/>
<text font-size="6.3" text-anchor="end" fill="#333" transform="translate(396.7 317.8) scale(1.05 1)">1.5</text>
<line x1="401.8" y1="390.4" x2="520" y2="390.4" stroke="#222" stroke-width="1.1"/>
<line x1="402.3" y1="390.4" x2="402.3" y2="393.4" stroke="#222" stroke-width="1"/>
<text font-size="6.3" text-anchor="middle" fill="#333" transform="translate(402.3 402.4) scale(1.05 1)">0</text>
<line x1="424.9" y1="390.4" x2="424.9" y2="393.4" stroke="#222" stroke-width="1"/>
<text font-size="6.3" text-anchor="middle" fill="#333" transform="translate(424.9 402.4) scale(1.05 1)">2</text>
<line x1="447.5" y1="390.4" x2="447.5" y2="393.4" stroke="#222" stroke-width="1"/>
<text font-size="6.3" text-anchor="middle" fill="#333" transform="translate(447.5 402.4) scale(1.05 1)">4</text>
<line x1="470.1" y1="390.4" x2="470.1" y2="393.4" stroke="#222" stroke-width="1"/>
<text font-size="6.3" text-anchor="middle" fill="#333" transform="translate(470.1 402.4) scale(1.05 1)">6</text>
<line x1="492.7" y1="390.4" x2="492.7" y2="393.4" stroke="#222" stroke-width="1"/>
<text font-size="6.3" text-anchor="middle" fill="#333" transform="translate(492.7 402.4) scale(1.05 1)">8</text>
<line x1="515.3" y1="390.4" x2="515.3" y2="393.4" stroke="#222" stroke-width="1"/>
<text font-size="6.3" text-anchor="middle" fill="#333" transform="translate(515.3 402.4) scale(1.05 1)">10</text>
<text font-size="9.1" text-anchor="middle" fill="#333" transform="translate(380.8 347.2) rotate(-90) scale(0.78 1)">10<tspan font-size="5.8" dy="-4.2">9</tspan><tspan dy="4.2">/L</tspan></text>
<text font-size="9.2" text-anchor="middle" fill="#333" transform="translate(464.1 415) scale(0.75 1)">Weeks</text>
<polyline points="424.9,379.7 447.5,366.4 470.1,369.6 492.7,358 515.3,348.3" fill="none" stroke="#4a9e45" stroke-width="1" stroke-linejoin="round"/>
<line x1="447.5" y1="364.9" x2="447.5" y2="367.9" stroke="#4a9e45" stroke-width="0.8"/>
<line x1="446.1" y1="364.9" x2="448.9" y2="364.9" stroke="#4a9e45" stroke-width="0.8"/>
<line x1="446.1" y1="367.9" x2="448.9" y2="367.9" stroke="#4a9e45" stroke-width="0.8"/>
<line x1="470.1" y1="367.6" x2="470.1" y2="371.6" stroke="#4a9e45" stroke-width="0.8"/>
<line x1="468.7" y1="367.6" x2="471.5" y2="367.6" stroke="#4a9e45" stroke-width="0.8"/>
<line x1="468.7" y1="371.6" x2="471.5" y2="371.6" stroke="#4a9e45" stroke-width="0.8"/>
<line x1="492.7" y1="349.5" x2="492.7" y2="366.5" stroke="#4a9e45" stroke-width="0.8"/>
<line x1="491.3" y1="349.5" x2="494.1" y2="349.5" stroke="#4a9e45" stroke-width="0.8"/>
<line x1="491.3" y1="366.5" x2="494.1" y2="366.5" stroke="#4a9e45" stroke-width="0.8"/>
<line x1="515.3" y1="334.3" x2="515.3" y2="362.3" stroke="#4a9e45" stroke-width="0.8"/>
<line x1="513.9" y1="334.3" x2="516.7" y2="334.3" stroke="#4a9e45" stroke-width="0.8"/>
<line x1="513.9" y1="362.3" x2="516.7" y2="362.3" stroke="#4a9e45" stroke-width="0.8"/>
<circle cx="424.9" cy="379.7" r="1.3" fill="#4a9e45"/>
<circle cx="447.5" cy="366.4" r="1.3" fill="#4a9e45"/>
<circle cx="470.1" cy="369.6" r="1.3" fill="#4a9e45"/>
<circle cx="492.7" cy="358" r="1.3" fill="#4a9e45"/>
<circle cx="515.3" cy="348.3" r="1.3" fill="#4a9e45"/>
<polyline points="424.9,379.7 447.5,362.8 470.1,370 492.7,368.4 515.3,341.5" fill="none" stroke="#1f3a6e" stroke-width="1" stroke-dasharray="2.2,1.6" stroke-linejoin="round"/>
<line x1="424.9" y1="378.5" x2="424.9" y2="380.9" stroke="#1f3a6e" stroke-width="0.8"/>
<line x1="423.5" y1="378.5" x2="426.3" y2="378.5" stroke="#1f3a6e" stroke-width="0.8"/>
<line x1="423.5" y1="380.9" x2="426.3" y2="380.9" stroke="#1f3a6e" stroke-width="0.8"/>
<line x1="447.5" y1="360.8" x2="447.5" y2="364.8" stroke="#1f3a6e" stroke-width="0.8"/>
<line x1="446.1" y1="360.8" x2="448.9" y2="360.8" stroke="#1f3a6e" stroke-width="0.8"/>
<line x1="446.1" y1="364.8" x2="448.9" y2="364.8" stroke="#1f3a6e" stroke-width="0.8"/>
<line x1="470.1" y1="367" x2="470.1" y2="373" stroke="#1f3a6e" stroke-width="0.8"/>
<line x1="468.7" y1="367" x2="471.5" y2="367" stroke="#1f3a6e" stroke-width="0.8"/>
<line x1="468.7" y1="373" x2="471.5" y2="373" stroke="#1f3a6e" stroke-width="0.8"/>
<line x1="492.7" y1="365.9" x2="492.7" y2="370.9" stroke="#1f3a6e" stroke-width="0.8"/>
<line x1="491.3" y1="365.9" x2="494.1" y2="365.9" stroke="#1f3a6e" stroke-width="0.8"/>
<line x1="491.3" y1="370.9" x2="494.1" y2="370.9" stroke="#1f3a6e" stroke-width="0.8"/>
<line x1="515.3" y1="326" x2="515.3" y2="357" stroke="#1f3a6e" stroke-width="0.8"/>
<line x1="513.9" y1="326" x2="516.7" y2="326" stroke="#1f3a6e" stroke-width="0.8"/>
<line x1="513.9" y1="357" x2="516.7" y2="357" stroke="#1f3a6e" stroke-width="0.8"/>
<circle cx="424.9" cy="379.7" r="1.3" fill="#1f3a6e"/>
<circle cx="447.5" cy="362.8" r="1.3" fill="#1f3a6e"/>
<circle cx="470.1" cy="370" r="1.3" fill="#1f3a6e"/>
<circle cx="492.7" cy="368.4" r="1.3" fill="#1f3a6e"/>
<circle cx="515.3" cy="341.5" r="1.3" fill="#1f3a6e"/>
<polyline points="424.9,382.1 447.5,389.3 470.1,388.8" fill="none" stroke="#b5203f" stroke-width="1.25" stroke-linejoin="round"/>
<circle cx="424.9" cy="382.1" r="2" fill="white" stroke="#b5203f" stroke-width="1.1"/>
<circle cx="447.5" cy="389.3" r="2" fill="white" stroke="#b5203f" stroke-width="1.1"/>
<circle cx="470.1" cy="388.8" r="2" fill="white" stroke="#b5203f" stroke-width="1.1"/>
<path d="M443.25,353.05 L443.25,356.15 M441.91,353.83 L444.59,355.38 M444.59,353.83 L441.91,355.38" stroke="#1a1a1a" stroke-width="1.0"/>
<path d="M447.7,353.05 L447.7,356.15 M446.36,353.83 L449.04,355.38 M449.04,353.83 L446.36,355.38" stroke="#1a1a1a" stroke-width="1.0"/>
<path d="M452.15,353.05 L452.15,356.15 M450.81,353.83 L453.49,355.38 M453.49,353.83 L450.81,355.38" stroke="#1a1a1a" stroke-width="1.0"/>
<path d="M464.65,353.05 L464.65,356.15 M463.31,353.83 L465.99,355.38 M465.99,353.83 L463.31,355.38" stroke="#1a1a1a" stroke-width="1.0"/>
<path d="M469.1,353.05 L469.1,356.15 M467.76,353.83 L470.44,355.38 M470.44,353.83 L467.76,355.38" stroke="#1a1a1a" stroke-width="1.0"/>
<path d="M473.55,353.05 L473.55,356.15 M472.21,353.83 L474.89,355.38 M474.89,353.83 L472.21,355.38" stroke="#1a1a1a" stroke-width="1.0"/>
<text font-size="9" text-anchor="middle" fill="#333" transform="translate(299 446) scale(1.1 1)">RBC</text>
<line x1="237.5" y1="447.2" x2="237.5" y2="525.5" stroke="#222" stroke-width="1.1"/>
<line x1="234.3" y1="525" x2="237.5" y2="525" stroke="#222" stroke-width="1"/>
<text font-size="6.3" text-anchor="end" fill="#333" transform="translate(231.9 528) scale(1.05 1)">0.0</text>
<line x1="234.3" y1="506.3" x2="237.5" y2="506.3" stroke="#222" stroke-width="1"/>
<text font-size="6.3" text-anchor="end" fill="#333" transform="translate(231.9 509.3) scale(1.05 1)">2.5</text>
<line x1="234.3" y1="487.6" x2="237.5" y2="487.6" stroke="#222" stroke-width="1"/>
<text font-size="6.3" text-anchor="end" fill="#333" transform="translate(231.9 490.6) scale(1.05 1)">5.0</text>
<line x1="234.3" y1="468.9" x2="237.5" y2="468.9" stroke="#222" stroke-width="1"/>
<text font-size="6.3" text-anchor="end" fill="#333" transform="translate(231.9 471.9) scale(1.05 1)">7.5</text>
<line x1="234.3" y1="450.2" x2="237.5" y2="450.2" stroke="#222" stroke-width="1"/>
<text font-size="6.3" text-anchor="end" fill="#333" transform="translate(231.9 453.2) scale(1.05 1)">10.0</text>
<line x1="237" y1="525" x2="355" y2="525" stroke="#222" stroke-width="1.1"/>
<line x1="237.5" y1="525" x2="237.5" y2="528" stroke="#222" stroke-width="1"/>
<text font-size="6.3" text-anchor="middle" fill="#333" transform="translate(237.5 537) scale(1.05 1)">0</text>
<line x1="260.08" y1="525" x2="260.08" y2="528" stroke="#222" stroke-width="1"/>
<text font-size="6.3" text-anchor="middle" fill="#333" transform="translate(260.08 537) scale(1.05 1)">2</text>
<line x1="282.66" y1="525" x2="282.66" y2="528" stroke="#222" stroke-width="1"/>
<text font-size="6.3" text-anchor="middle" fill="#333" transform="translate(282.66 537) scale(1.05 1)">4</text>
<line x1="305.24" y1="525" x2="305.24" y2="528" stroke="#222" stroke-width="1"/>
<text font-size="6.3" text-anchor="middle" fill="#333" transform="translate(305.24 537) scale(1.05 1)">6</text>
<line x1="327.82" y1="525" x2="327.82" y2="528" stroke="#222" stroke-width="1"/>
<text font-size="6.3" text-anchor="middle" fill="#333" transform="translate(327.82 537) scale(1.05 1)">8</text>
<line x1="350.4" y1="525" x2="350.4" y2="528" stroke="#222" stroke-width="1"/>
<text font-size="6.3" text-anchor="middle" fill="#333" transform="translate(350.4 537) scale(1.05 1)">10</text>
<text font-size="9.1" text-anchor="middle" fill="#333" transform="translate(215.7 482.6) rotate(-90) scale(0.84 1)">10<tspan font-size="5.8" dy="-4.2">12</tspan><tspan dy="4.2">/L</tspan></text>
<text font-size="9.2" text-anchor="middle" fill="#333" transform="translate(297 550.8) scale(0.75 1)">Weeks</text>
<polyline points="260.08,471 282.66,474.2 305.24,469.6 327.82,472.3 350.4,469.6" fill="none" stroke="#4a9e45" stroke-width="1" stroke-linejoin="round"/>
<line x1="327.82" y1="470.3" x2="327.82" y2="474.3" stroke="#4a9e45" stroke-width="0.8"/>
<line x1="326.42" y1="470.3" x2="329.22" y2="470.3" stroke="#4a9e45" stroke-width="0.8"/>
<line x1="326.42" y1="474.3" x2="329.22" y2="474.3" stroke="#4a9e45" stroke-width="0.8"/>
<line x1="350.4" y1="466.1" x2="350.4" y2="473.1" stroke="#4a9e45" stroke-width="0.8"/>
<line x1="349" y1="466.1" x2="351.8" y2="466.1" stroke="#4a9e45" stroke-width="0.8"/>
<line x1="349" y1="473.1" x2="351.8" y2="473.1" stroke="#4a9e45" stroke-width="0.8"/>
<circle cx="260.08" cy="471" r="1.3" fill="#4a9e45"/>
<circle cx="282.66" cy="474.2" r="1.3" fill="#4a9e45"/>
<circle cx="305.24" cy="469.6" r="1.3" fill="#4a9e45"/>
<circle cx="327.82" cy="472.3" r="1.3" fill="#4a9e45"/>
<circle cx="350.4" cy="469.6" r="1.3" fill="#4a9e45"/>
<polyline points="260.08,470.2 282.66,471.8 305.24,466.1 327.82,469.6 350.4,464.8" fill="none" stroke="#1f3a6e" stroke-width="1" stroke-dasharray="2.2,1.6" stroke-linejoin="round"/>
<line x1="305.24" y1="463.4" x2="305.24" y2="468.8" stroke="#1f3a6e" stroke-width="0.8"/>
<line x1="303.84" y1="463.4" x2="306.64" y2="463.4" stroke="#1f3a6e" stroke-width="0.8"/>
<line x1="303.84" y1="468.8" x2="306.64" y2="468.8" stroke="#1f3a6e" stroke-width="0.8"/>
<line x1="327.82" y1="464.6" x2="327.82" y2="474.6" stroke="#1f3a6e" stroke-width="0.8"/>
<line x1="326.42" y1="464.6" x2="329.22" y2="464.6" stroke="#1f3a6e" stroke-width="0.8"/>
<line x1="326.42" y1="474.6" x2="329.22" y2="474.6" stroke="#1f3a6e" stroke-width="0.8"/>
<line x1="350.4" y1="458.8" x2="350.4" y2="470.8" stroke="#1f3a6e" stroke-width="0.8"/>
<line x1="349" y1="458.8" x2="351.8" y2="458.8" stroke="#1f3a6e" stroke-width="0.8"/>
<line x1="349" y1="470.8" x2="351.8" y2="470.8" stroke="#1f3a6e" stroke-width="0.8"/>
<circle cx="260.08" cy="470.2" r="1.3" fill="#1f3a6e"/>
<circle cx="282.66" cy="471.8" r="1.3" fill="#1f3a6e"/>
<circle cx="305.24" cy="466.1" r="1.3" fill="#1f3a6e"/>
<circle cx="327.82" cy="469.6" r="1.3" fill="#1f3a6e"/>
<circle cx="350.4" cy="464.8" r="1.3" fill="#1f3a6e"/>
<polyline points="260.08,484.4 282.66,506.8 305.24,518.1" fill="none" stroke="#b5203f" stroke-width="1.25" stroke-linejoin="round"/>
<line x1="260.08" y1="480.4" x2="260.08" y2="488.4" stroke="#b5203f" stroke-width="1"/>
<line x1="258.68" y1="480.4" x2="261.48" y2="480.4" stroke="#b5203f" stroke-width="1"/>
<line x1="258.68" y1="488.4" x2="261.48" y2="488.4" stroke="#b5203f" stroke-width="1"/>
<line x1="282.66" y1="496.8" x2="282.66" y2="518.3" stroke="#b5203f" stroke-width="1"/>
<line x1="281.26" y1="496.8" x2="284.06" y2="496.8" stroke="#b5203f" stroke-width="1"/>
<line x1="281.26" y1="518.3" x2="284.06" y2="518.3" stroke="#b5203f" stroke-width="1"/>
<circle cx="260.08" cy="484.4" r="2" fill="white" stroke="#b5203f" stroke-width="1.1"/>
<circle cx="282.66" cy="506.8" r="2" fill="white" stroke="#b5203f" stroke-width="1.1"/>
<circle cx="305.24" cy="518.1" r="2" fill="white" stroke="#b5203f" stroke-width="1.1"/>
<path d="M253.2,458.85 L253.2,461.95 M251.86,459.62 L254.54,461.17 M254.54,459.62 L251.86,461.17" stroke="#1a1a1a" stroke-width="1.0"/>
<path d="M257.4,458.85 L257.4,461.95 M256.06,459.62 L258.74,461.17 M258.74,459.62 L256.06,461.17" stroke="#1a1a1a" stroke-width="1.0"/>
<path d="M261.6,458.85 L261.6,461.95 M260.26,459.62 L262.94,461.17 M262.94,459.62 L260.26,461.17" stroke="#1a1a1a" stroke-width="1.0"/>
<path d="M265.8,458.85 L265.8,461.95 M264.46,459.62 L267.14,461.17 M267.14,459.62 L264.46,461.17" stroke="#1a1a1a" stroke-width="1.0"/>
<path d="M275.5,458.85 L275.5,461.95 M274.16,459.62 L276.84,461.17 M276.84,459.62 L274.16,461.17" stroke="#1a1a1a" stroke-width="1.0"/>
<path d="M279.7,458.85 L279.7,461.95 M278.36,459.62 L281.04,461.17 M281.04,459.62 L278.36,461.17" stroke="#1a1a1a" stroke-width="1.0"/>
<path d="M283.9,458.85 L283.9,461.95 M282.56,459.62 L285.24,461.17 M285.24,459.62 L282.56,461.17" stroke="#1a1a1a" stroke-width="1.0"/>
<path d="M288.1,458.85 L288.1,461.95 M286.76,459.62 L289.44,461.17 M289.44,459.62 L286.76,461.17" stroke="#1a1a1a" stroke-width="1.0"/>
<path d="M299,458.85 L299,461.95 M297.66,459.62 L300.34,461.17 M300.34,459.62 L297.66,461.17" stroke="#1a1a1a" stroke-width="1.0"/>
<path d="M303.2,458.85 L303.2,461.95 M301.86,459.62 L304.54,461.17 M304.54,459.62 L301.86,461.17" stroke="#1a1a1a" stroke-width="1.0"/>
<path d="M307.4,458.85 L307.4,461.95 M306.06,459.62 L308.74,461.17 M308.74,459.62 L306.06,461.17" stroke="#1a1a1a" stroke-width="1.0"/>
<path d="M311.6,458.85 L311.6,461.95 M310.26,459.62 L312.94,461.17 M312.94,459.62 L310.26,461.17" stroke="#1a1a1a" stroke-width="1.0"/>
<text font-size="9" text-anchor="middle" fill="#333" transform="translate(464.5 446.2) scale(1.1 1)">PLT</text>
<line x1="402.3" y1="447.2" x2="402.3" y2="525.7" stroke="#222" stroke-width="1.1"/>
<line x1="399.1" y1="525.2" x2="402.3" y2="525.2" stroke="#222" stroke-width="1"/>
<text font-size="6.3" text-anchor="end" fill="#333" transform="translate(396.7 528.2) scale(1.05 1)">0</text>
<line x1="399.1" y1="506.5" x2="402.3" y2="506.5" stroke="#222" stroke-width="1"/>
<text font-size="6.3" text-anchor="end" fill="#333" transform="translate(396.7 509.5) scale(1.05 1)">250</text>
<line x1="399.1" y1="487.8" x2="402.3" y2="487.8" stroke="#222" stroke-width="1"/>
<text font-size="6.3" text-anchor="end" fill="#333" transform="translate(396.7 490.8) scale(1.05 1)">500</text>
<line x1="399.1" y1="469.1" x2="402.3" y2="469.1" stroke="#222" stroke-width="1"/>
<text font-size="6.3" text-anchor="end" fill="#333" transform="translate(396.7 472.1) scale(1.05 1)">750</text>
<line x1="399.1" y1="450.4" x2="402.3" y2="450.4" stroke="#222" stroke-width="1"/>
<text font-size="6.3" text-anchor="end" fill="#333" transform="translate(396.7 453.4) scale(1.05 1)">1000</text>
<line x1="401.8" y1="525.2" x2="520" y2="525.2" stroke="#222" stroke-width="1.1"/>
<line x1="402.3" y1="525.2" x2="402.3" y2="528.2" stroke="#222" stroke-width="1"/>
<text font-size="6.3" text-anchor="middle" fill="#333" transform="translate(402.3 537.5) scale(1.05 1)">0</text>
<line x1="424.9" y1="525.2" x2="424.9" y2="528.2" stroke="#222" stroke-width="1"/>
<text font-size="6.3" text-anchor="middle" fill="#333" transform="translate(424.9 537.5) scale(1.05 1)">2</text>
<line x1="447.5" y1="525.2" x2="447.5" y2="528.2" stroke="#222" stroke-width="1"/>
<text font-size="6.3" text-anchor="middle" fill="#333" transform="translate(447.5 537.5) scale(1.05 1)">4</text>
<line x1="470.1" y1="525.2" x2="470.1" y2="528.2" stroke="#222" stroke-width="1"/>
<text font-size="6.3" text-anchor="middle" fill="#333" transform="translate(470.1 537.5) scale(1.05 1)">6</text>
<line x1="492.7" y1="525.2" x2="492.7" y2="528.2" stroke="#222" stroke-width="1"/>
<text font-size="6.3" text-anchor="middle" fill="#333" transform="translate(492.7 537.5) scale(1.05 1)">8</text>
<line x1="515.3" y1="525.2" x2="515.3" y2="528.2" stroke="#222" stroke-width="1"/>
<text font-size="6.3" text-anchor="middle" fill="#333" transform="translate(515.3 537.5) scale(1.05 1)">10</text>
<text font-size="9.1" text-anchor="middle" fill="#333" transform="translate(378.3 482.4) rotate(-90) scale(0.78 1)">10<tspan font-size="5.8" dy="-4.2">9</tspan><tspan dy="4.2">/L</tspan></text>
<text font-size="9.2" text-anchor="middle" fill="#333" transform="translate(461.1 550.6) scale(0.75 1)">Weeks</text>
<polyline points="424.9,495.8 447.5,468.8 470.1,474.9 492.7,482.1 515.3,474.9" fill="none" stroke="#4a9e45" stroke-width="1" stroke-linejoin="round"/>
<line x1="424.9" y1="494.3" x2="424.9" y2="497.3" stroke="#4a9e45" stroke-width="0.8"/>
<line x1="423.5" y1="494.3" x2="426.3" y2="494.3" stroke="#4a9e45" stroke-width="0.8"/>
<line x1="423.5" y1="497.3" x2="426.3" y2="497.3" stroke="#4a9e45" stroke-width="0.8"/>
<line x1="447.5" y1="467.3" x2="447.5" y2="470.3" stroke="#4a9e45" stroke-width="0.8"/>
<line x1="446.1" y1="467.3" x2="448.9" y2="467.3" stroke="#4a9e45" stroke-width="0.8"/>
<line x1="446.1" y1="470.3" x2="448.9" y2="470.3" stroke="#4a9e45" stroke-width="0.8"/>
<line x1="470.1" y1="472.4" x2="470.1" y2="477.4" stroke="#4a9e45" stroke-width="0.8"/>
<line x1="468.7" y1="472.4" x2="471.5" y2="472.4" stroke="#4a9e45" stroke-width="0.8"/>
<line x1="468.7" y1="477.4" x2="471.5" y2="477.4" stroke="#4a9e45" stroke-width="0.8"/>
<line x1="492.7" y1="477.1" x2="492.7" y2="487.1" stroke="#4a9e45" stroke-width="0.8"/>
<line x1="491.3" y1="477.1" x2="494.1" y2="477.1" stroke="#4a9e45" stroke-width="0.8"/>
<line x1="491.3" y1="487.1" x2="494.1" y2="487.1" stroke="#4a9e45" stroke-width="0.8"/>
<line x1="515.3" y1="465.4" x2="515.3" y2="484.4" stroke="#4a9e45" stroke-width="0.8"/>
<line x1="513.9" y1="465.4" x2="516.7" y2="465.4" stroke="#4a9e45" stroke-width="0.8"/>
<line x1="513.9" y1="484.4" x2="516.7" y2="484.4" stroke="#4a9e45" stroke-width="0.8"/>
<circle cx="424.9" cy="495.8" r="1.3" fill="#4a9e45"/>
<circle cx="447.5" cy="468.8" r="1.3" fill="#4a9e45"/>
<circle cx="470.1" cy="474.9" r="1.3" fill="#4a9e45"/>
<circle cx="492.7" cy="482.1" r="1.3" fill="#4a9e45"/>
<circle cx="515.3" cy="474.9" r="1.3" fill="#4a9e45"/>
<polyline points="424.9,492.9 447.5,464 470.1,470.8 492.7,480.9 515.3,474.9" fill="none" stroke="#1f3a6e" stroke-width="1" stroke-dasharray="2.2,1.6" stroke-linejoin="round"/>
<line x1="424.9" y1="491.4" x2="424.9" y2="494.4" stroke="#1f3a6e" stroke-width="0.8"/>
<line x1="423.5" y1="491.4" x2="426.3" y2="491.4" stroke="#1f3a6e" stroke-width="0.8"/>
<line x1="423.5" y1="494.4" x2="426.3" y2="494.4" stroke="#1f3a6e" stroke-width="0.8"/>
<line x1="470.1" y1="464.8" x2="470.1" y2="476.8" stroke="#1f3a6e" stroke-width="0.8"/>
<line x1="468.7" y1="464.8" x2="471.5" y2="464.8" stroke="#1f3a6e" stroke-width="0.8"/>
<line x1="468.7" y1="476.8" x2="471.5" y2="476.8" stroke="#1f3a6e" stroke-width="0.8"/>
<line x1="492.7" y1="475.4" x2="492.7" y2="486.4" stroke="#1f3a6e" stroke-width="0.8"/>
<line x1="491.3" y1="475.4" x2="494.1" y2="475.4" stroke="#1f3a6e" stroke-width="0.8"/>
<line x1="491.3" y1="486.4" x2="494.1" y2="486.4" stroke="#1f3a6e" stroke-width="0.8"/>
<line x1="515.3" y1="467.9" x2="515.3" y2="481.9" stroke="#1f3a6e" stroke-width="0.8"/>
<line x1="513.9" y1="467.9" x2="516.7" y2="467.9" stroke="#1f3a6e" stroke-width="0.8"/>
<line x1="513.9" y1="481.9" x2="516.7" y2="481.9" stroke="#1f3a6e" stroke-width="0.8"/>
<circle cx="424.9" cy="492.9" r="1.3" fill="#1f3a6e"/>
<circle cx="447.5" cy="464" r="1.3" fill="#1f3a6e"/>
<circle cx="470.1" cy="470.8" r="1.3" fill="#1f3a6e"/>
<circle cx="492.7" cy="480.9" r="1.3" fill="#1f3a6e"/>
<circle cx="515.3" cy="474.9" r="1.3" fill="#1f3a6e"/>
<polyline points="424.9,510.9 447.5,522.2 470.1,523.7" fill="none" stroke="#b5203f" stroke-width="1.25" stroke-linejoin="round"/>
<line x1="424.9" y1="505.4" x2="424.9" y2="516.4" stroke="#b5203f" stroke-width="1"/>
<line x1="423.5" y1="505.4" x2="426.3" y2="505.4" stroke="#b5203f" stroke-width="1"/>
<line x1="423.5" y1="516.4" x2="426.3" y2="516.4" stroke="#b5203f" stroke-width="1"/>
<circle cx="424.9" cy="510.9" r="2" fill="white" stroke="#b5203f" stroke-width="1.1"/>
<circle cx="447.5" cy="522.2" r="2" fill="white" stroke="#b5203f" stroke-width="1.1"/>
<circle cx="470.1" cy="523.7" r="2" fill="white" stroke="#b5203f" stroke-width="1.1"/>
<path d="M418.2,455.75 L418.2,458.85 M416.86,456.53 L419.54,458.07 M419.54,456.53 L416.86,458.07" stroke="#1a1a1a" stroke-width="1.0"/>
<path d="M422.4,455.75 L422.4,458.85 M421.06,456.53 L423.74,458.07 M423.74,456.53 L421.06,458.07" stroke="#1a1a1a" stroke-width="1.0"/>
<path d="M426.6,455.75 L426.6,458.85 M425.26,456.53 L427.94,458.07 M427.94,456.53 L425.26,458.07" stroke="#1a1a1a" stroke-width="1.0"/>
<path d="M430.8,455.75 L430.8,458.85 M429.46,456.53 L432.14,458.07 M432.14,456.53 L429.46,458.07" stroke="#1a1a1a" stroke-width="1.0"/>
<path d="M440.5,455.75 L440.5,458.85 M439.16,456.53 L441.84,458.07 M441.84,456.53 L439.16,458.07" stroke="#1a1a1a" stroke-width="1.0"/>
<path d="M444.7,455.75 L444.7,458.85 M443.36,456.53 L446.04,458.07 M446.04,456.53 L443.36,458.07" stroke="#1a1a1a" stroke-width="1.0"/>
<path d="M448.9,455.75 L448.9,458.85 M447.56,456.53 L450.24,458.07 M450.24,456.53 L447.56,458.07" stroke="#1a1a1a" stroke-width="1.0"/>
<path d="M453.1,455.75 L453.1,458.85 M451.76,456.53 L454.44,458.07 M454.44,456.53 L451.76,458.07" stroke="#1a1a1a" stroke-width="1.0"/>
<path d="M463.8,455.75 L463.8,458.85 M462.46,456.53 L465.14,458.07 M465.14,456.53 L462.46,458.07" stroke="#1a1a1a" stroke-width="1.0"/>
<path d="M468,455.75 L468,458.85 M466.66,456.53 L469.34,458.07 M469.34,456.53 L466.66,458.07" stroke="#1a1a1a" stroke-width="1.0"/>
<path d="M472.2,455.75 L472.2,458.85 M470.86,456.53 L473.54,458.07 M473.54,456.53 L470.86,458.07" stroke="#1a1a1a" stroke-width="1.0"/>
<path d="M476.4,455.75 L476.4,458.85 M475.06,456.53 L477.74,458.07 M477.74,456.53 L475.06,458.07" stroke="#1a1a1a" stroke-width="1.0"/>
<text font-size="12" text-anchor="start" fill="#111" font-weight="bold" transform="translate(0.6 437.6)">F</text>
<line x1="43.6" y1="445.6" x2="43.6" y2="524.1" stroke="#222" stroke-width="1.1"/>
<line x1="40.4" y1="523.6" x2="43.6" y2="523.6" stroke="#222" stroke-width="1"/>
<text font-size="6.3" text-anchor="end" fill="#333" transform="translate(38 526.6) scale(1.05 1)">0</text>
<line x1="40.4" y1="508.6" x2="43.6" y2="508.6" stroke="#222" stroke-width="1"/>
<text font-size="6.3" text-anchor="end" fill="#333" transform="translate(38 511.6) scale(1.05 1)">20</text>
<line x1="40.4" y1="493.6" x2="43.6" y2="493.6" stroke="#222" stroke-width="1"/>
<text font-size="6.3" text-anchor="end" fill="#333" transform="translate(38 496.6) scale(1.05 1)">40</text>
<line x1="40.4" y1="478.6" x2="43.6" y2="478.6" stroke="#222" stroke-width="1"/>
<text font-size="6.3" text-anchor="end" fill="#333" transform="translate(38 481.6) scale(1.05 1)">60</text>
<line x1="40.4" y1="463.6" x2="43.6" y2="463.6" stroke="#222" stroke-width="1"/>
<text font-size="6.3" text-anchor="end" fill="#333" transform="translate(38 466.6) scale(1.05 1)">80</text>
<line x1="40.4" y1="448.6" x2="43.6" y2="448.6" stroke="#222" stroke-width="1"/>
<text font-size="6.3" text-anchor="end" fill="#333" transform="translate(38 451.6) scale(1.05 1)">100</text>
<line x1="43.1" y1="523.6" x2="161.2" y2="523.6" stroke="#222" stroke-width="1.1"/>
<line x1="43.6" y1="523.6" x2="43.6" y2="526.6" stroke="#222" stroke-width="1"/>
<text font-size="6.3" text-anchor="middle" fill="#333" transform="translate(43.6 536) scale(1.05 1)">0</text>
<line x1="71.7" y1="523.6" x2="71.7" y2="526.6" stroke="#222" stroke-width="1"/>
<text font-size="6.3" text-anchor="middle" fill="#333" transform="translate(71.7 536) scale(1.05 1)">20</text>
<line x1="99.8" y1="523.6" x2="99.8" y2="526.6" stroke="#222" stroke-width="1"/>
<text font-size="6.3" text-anchor="middle" fill="#333" transform="translate(99.8 536) scale(1.05 1)">40</text>
<line x1="127.9" y1="523.6" x2="127.9" y2="526.6" stroke="#222" stroke-width="1"/>
<text font-size="6.3" text-anchor="middle" fill="#333" transform="translate(127.9 536) scale(1.05 1)">60</text>
<line x1="156" y1="523.6" x2="156" y2="526.6" stroke="#222" stroke-width="1"/>
<text font-size="6.3" text-anchor="middle" fill="#333" transform="translate(156 536) scale(1.05 1)">80</text>
<text font-size="8.4" text-anchor="middle" fill="#333" transform="translate(20 478.9) rotate(-90) scale(0.86 1)">Percent survival</text>
<text font-size="8.6" text-anchor="middle" fill="#333" transform="translate(106 548.5) scale(0.85 1)">Days elapsed</text>
<polyline points="43.6,448.6 61.87,448.6 61.87,463.6 67.48,463.6 67.48,478.6 68.89,478.6 68.89,493.6 87.16,493.6 87.16,508.6 102.61,508.6 102.61,523.6" fill="none" stroke="#b5203f" stroke-width="1" stroke-linejoin="round"/>
<line x1="43.6" y1="448.6" x2="141.95" y2="448.6" stroke="#4a9e45" stroke-width="1.2"/>
<line x1="43.6" y1="448.6" x2="141.95" y2="448.6" stroke="#1f3a6e" stroke-width="0.9" stroke-dasharray="1.6,1.2"/>
<path d="M128.2,442.85 L128.2,445.95 M126.86,443.62 L129.54,445.17 M129.54,443.62 L126.86,445.17" stroke="#1a1a1a" stroke-width="1.0"/>
<path d="M132.4,442.85 L132.4,445.95 M131.06,443.62 L133.74,445.17 M133.74,443.62 L131.06,445.17" stroke="#1a1a1a" stroke-width="1.0"/>
<path d="M136.6,442.85 L136.6,445.95 M135.26,443.62 L137.94,445.17 M137.94,443.62 L135.26,445.17" stroke="#1a1a1a" stroke-width="1.0"/>
<path d="M140.8,442.85 L140.8,445.95 M139.46,443.62 L142.14,445.17 M142.14,443.62 L139.46,445.17" stroke="#1a1a1a" stroke-width="1.0"/>
<line x1="90.6" y1="463.1" x2="100.7" y2="463.1" stroke="#b5203f" stroke-width="1"/>
<text font-size="6.6" text-anchor="start" fill="#333" transform="translate(103.5 465.5) scale(1.1 1)">BMF</text>
<line x1="90.6" y1="473.7" x2="100.7" y2="473.7" stroke="#1f3a6e" stroke-width="1" stroke-dasharray="2,1.3"/>
<text font-size="6.6" text-anchor="start" fill="#333" transform="translate(103.5 476.1) scale(1.1 1)">BMF+RUXD+4</text>
<line x1="90.6" y1="483.8" x2="100.7" y2="483.8" stroke="#4a9e45" stroke-width="1.4"/>
<text font-size="6.6" text-anchor="start" fill="#333" transform="translate(103.5 486.2) scale(1.1 1)">BMF+RUXD+6</text>
</svg>
</body></html>
